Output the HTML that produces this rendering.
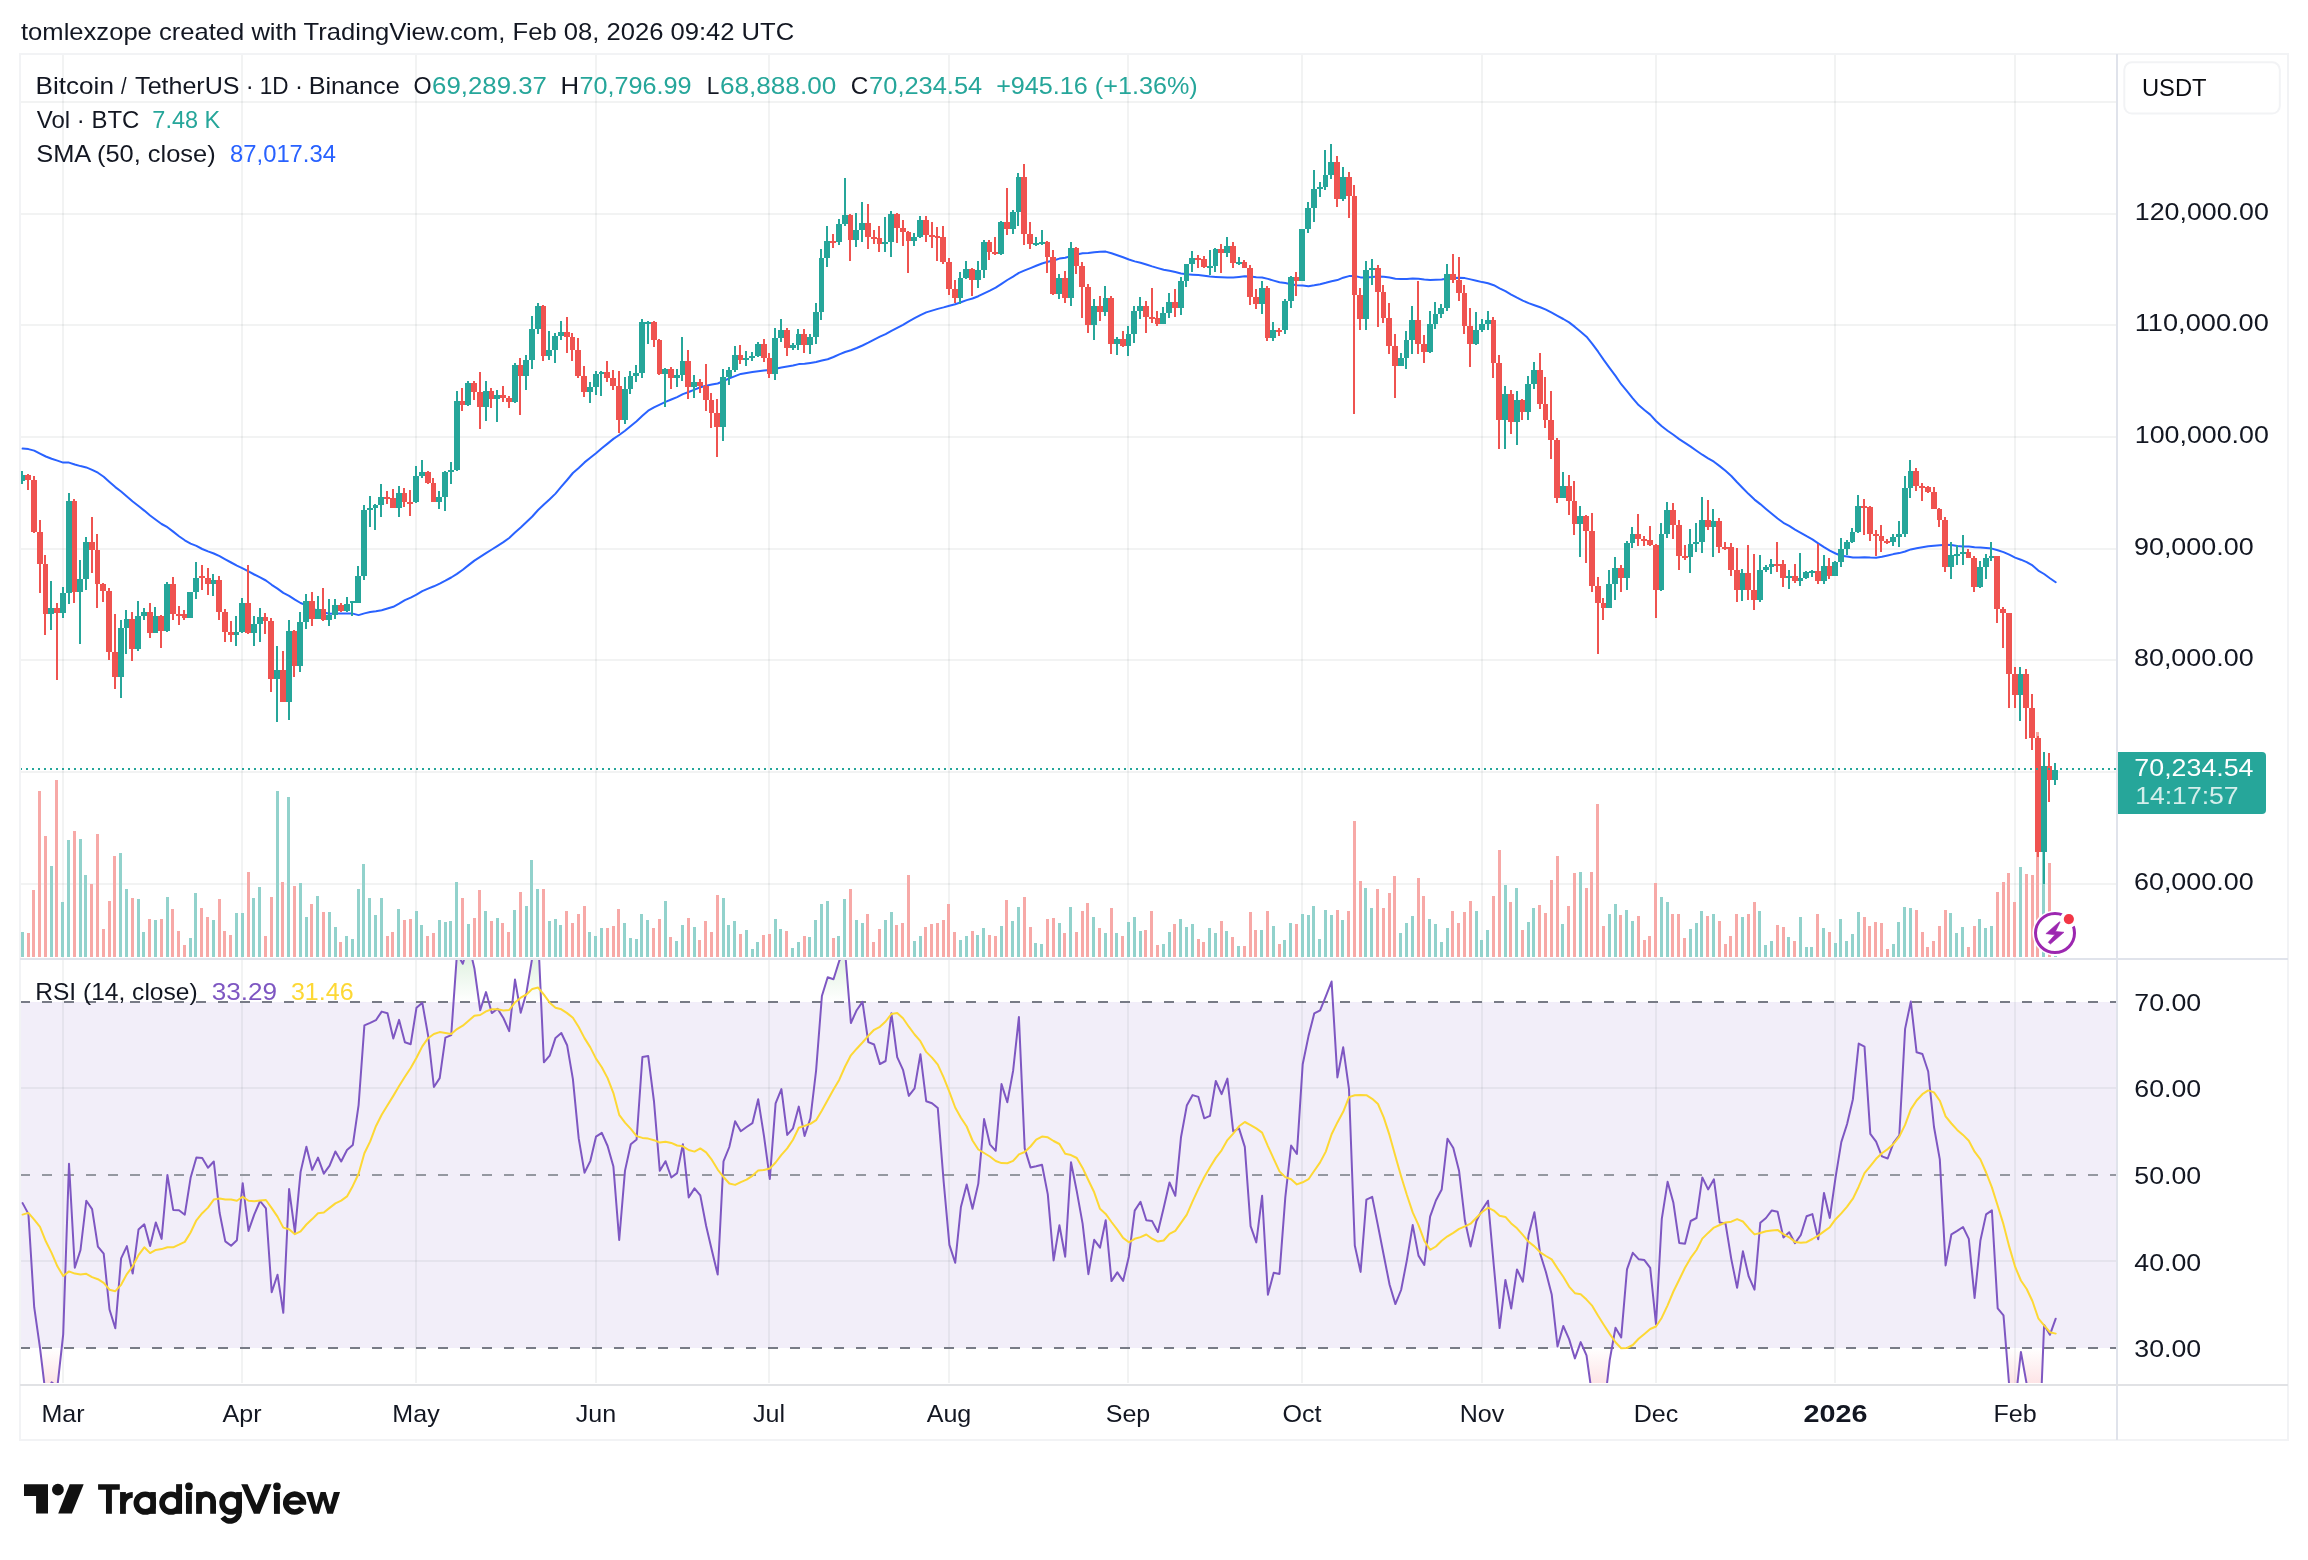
<!DOCTYPE html>
<html><head><meta charset="utf-8"><title>BTCUSDT chart</title>
<style>html,body{margin:0;padding:0;background:#fff;}body{width:2308px;height:1560px;overflow:hidden;font-family:"Liberation Sans", sans-serif;}svg{display:block;will-change:transform;}</style>
</head><body>
<svg width="2308" height="1560" viewBox="0 0 2308 1560" font-family='"Liberation Sans", sans-serif'>
<rect width="2308" height="1560" fill="#fff"/>
<defs>
<clipPath id="p1"><rect x="20" y="55" width="2096" height="903"/></clipPath>
<clipPath id="p2"><rect x="21" y="960" width="2095" height="423"/></clipPath>
<linearGradient id="gob" gradientUnits="userSpaceOnUse" x1="0" y1="742.5" x2="0" y2="1002.0"><stop offset="0" stop-color="#4caf50" stop-opacity="1"/><stop offset="1" stop-color="#4caf50" stop-opacity="0"/></linearGradient>
<linearGradient id="gos" gradientUnits="userSpaceOnUse" x1="0" y1="1348.0" x2="0" y2="1607.5"><stop offset="0" stop-color="#f23645" stop-opacity="0"/><stop offset="1" stop-color="#f23645" stop-opacity="1"/></linearGradient>
</defs>
<rect x="21" y="1002.0" width="2095" height="346.0" fill="#f2eef9"/>
<g stroke="#2a2e39" stroke-opacity="0.06" stroke-width="2" shape-rendering="crispEdges">
<line x1="63" y1="55" x2="63" y2="1383"/>
<line x1="242" y1="55" x2="242" y2="1383"/>
<line x1="416" y1="55" x2="416" y2="1383"/>
<line x1="596" y1="55" x2="596" y2="1383"/>
<line x1="769" y1="55" x2="769" y2="1383"/>
<line x1="949" y1="55" x2="949" y2="1383"/>
<line x1="1128" y1="55" x2="1128" y2="1383"/>
<line x1="1302" y1="55" x2="1302" y2="1383"/>
<line x1="1482" y1="55" x2="1482" y2="1383"/>
<line x1="1656" y1="55" x2="1656" y2="1383"/>
<line x1="1835" y1="55" x2="1835" y2="1383"/>
<line x1="2015" y1="55" x2="2015" y2="1383"/>
<line x1="21" y1="884" x2="2116" y2="884"/>
<line x1="21" y1="772" x2="2116" y2="772"/>
<line x1="21" y1="660" x2="2116" y2="660"/>
<line x1="21" y1="549" x2="2116" y2="549"/>
<line x1="21" y1="437" x2="2116" y2="437"/>
<line x1="21" y1="325" x2="2116" y2="325"/>
<line x1="21" y1="214" x2="2116" y2="214"/>
<line x1="21" y1="102" x2="2116" y2="102"/>
<line x1="21" y1="1088" x2="2116" y2="1088"/>
<line x1="21" y1="1261" x2="2116" y2="1261"/>
</g>
<g clip-path="url(#p1)" shape-rendering="crispEdges">
<rect x="21" y="932" width="3" height="25" fill="#92d2cc"/>
<rect x="27" y="933" width="3" height="24" fill="#f7a9a7"/>
<rect x="32" y="890" width="3" height="67" fill="#f7a9a7"/>
<rect x="38" y="791" width="3" height="166" fill="#f7a9a7"/>
<rect x="44" y="836" width="3" height="121" fill="#f7a9a7"/>
<rect x="50" y="866" width="3" height="91" fill="#92d2cc"/>
<rect x="55" y="780" width="3" height="177" fill="#f7a9a7"/>
<rect x="61" y="902" width="3" height="55" fill="#92d2cc"/>
<rect x="67" y="840" width="3" height="117" fill="#92d2cc"/>
<rect x="73" y="831" width="3" height="126" fill="#f7a9a7"/>
<rect x="79" y="839" width="3" height="118" fill="#92d2cc"/>
<rect x="84" y="875" width="3" height="82" fill="#92d2cc"/>
<rect x="90" y="884" width="3" height="73" fill="#f7a9a7"/>
<rect x="96" y="834" width="3" height="123" fill="#f7a9a7"/>
<rect x="102" y="929" width="3" height="28" fill="#f7a9a7"/>
<rect x="108" y="901" width="3" height="56" fill="#f7a9a7"/>
<rect x="113" y="856" width="3" height="101" fill="#f7a9a7"/>
<rect x="119" y="853" width="3" height="104" fill="#92d2cc"/>
<rect x="125" y="889" width="3" height="68" fill="#92d2cc"/>
<rect x="131" y="898" width="3" height="59" fill="#f7a9a7"/>
<rect x="137" y="899" width="3" height="58" fill="#92d2cc"/>
<rect x="142" y="932" width="3" height="25" fill="#92d2cc"/>
<rect x="148" y="919" width="3" height="38" fill="#f7a9a7"/>
<rect x="154" y="920" width="3" height="37" fill="#92d2cc"/>
<rect x="160" y="919" width="3" height="38" fill="#f7a9a7"/>
<rect x="166" y="897" width="3" height="60" fill="#92d2cc"/>
<rect x="171" y="909" width="3" height="48" fill="#f7a9a7"/>
<rect x="177" y="931" width="3" height="26" fill="#f7a9a7"/>
<rect x="183" y="945" width="3" height="12" fill="#f7a9a7"/>
<rect x="189" y="938" width="3" height="19" fill="#92d2cc"/>
<rect x="194" y="893" width="3" height="64" fill="#92d2cc"/>
<rect x="200" y="908" width="3" height="49" fill="#f7a9a7"/>
<rect x="206" y="917" width="3" height="40" fill="#f7a9a7"/>
<rect x="212" y="920" width="3" height="37" fill="#92d2cc"/>
<rect x="218" y="899" width="3" height="58" fill="#f7a9a7"/>
<rect x="223" y="931" width="3" height="26" fill="#f7a9a7"/>
<rect x="229" y="935" width="3" height="22" fill="#f7a9a7"/>
<rect x="235" y="913" width="3" height="44" fill="#92d2cc"/>
<rect x="241" y="913" width="3" height="44" fill="#92d2cc"/>
<rect x="247" y="872" width="3" height="85" fill="#f7a9a7"/>
<rect x="252" y="898" width="3" height="59" fill="#92d2cc"/>
<rect x="258" y="887" width="3" height="70" fill="#92d2cc"/>
<rect x="264" y="936" width="3" height="21" fill="#f7a9a7"/>
<rect x="270" y="897" width="3" height="60" fill="#f7a9a7"/>
<rect x="276" y="791" width="3" height="166" fill="#92d2cc"/>
<rect x="281" y="882" width="3" height="75" fill="#f7a9a7"/>
<rect x="287" y="797" width="3" height="160" fill="#92d2cc"/>
<rect x="293" y="886" width="3" height="71" fill="#f7a9a7"/>
<rect x="299" y="883" width="3" height="74" fill="#92d2cc"/>
<rect x="305" y="917" width="3" height="40" fill="#92d2cc"/>
<rect x="310" y="904" width="3" height="53" fill="#f7a9a7"/>
<rect x="316" y="896" width="3" height="61" fill="#92d2cc"/>
<rect x="322" y="912" width="3" height="45" fill="#f7a9a7"/>
<rect x="328" y="912" width="3" height="45" fill="#92d2cc"/>
<rect x="334" y="927" width="3" height="30" fill="#92d2cc"/>
<rect x="339" y="942" width="3" height="15" fill="#f7a9a7"/>
<rect x="345" y="936" width="3" height="21" fill="#92d2cc"/>
<rect x="351" y="939" width="3" height="18" fill="#92d2cc"/>
<rect x="357" y="889" width="3" height="68" fill="#92d2cc"/>
<rect x="362" y="864" width="3" height="93" fill="#92d2cc"/>
<rect x="368" y="898" width="3" height="59" fill="#92d2cc"/>
<rect x="374" y="915" width="3" height="42" fill="#92d2cc"/>
<rect x="380" y="898" width="3" height="59" fill="#92d2cc"/>
<rect x="386" y="936" width="3" height="21" fill="#f7a9a7"/>
<rect x="391" y="932" width="3" height="25" fill="#f7a9a7"/>
<rect x="397" y="909" width="3" height="48" fill="#92d2cc"/>
<rect x="403" y="920" width="3" height="37" fill="#f7a9a7"/>
<rect x="409" y="919" width="3" height="38" fill="#f7a9a7"/>
<rect x="415" y="911" width="3" height="46" fill="#92d2cc"/>
<rect x="420" y="925" width="3" height="32" fill="#92d2cc"/>
<rect x="426" y="936" width="3" height="21" fill="#f7a9a7"/>
<rect x="432" y="933" width="3" height="24" fill="#f7a9a7"/>
<rect x="438" y="920" width="3" height="37" fill="#92d2cc"/>
<rect x="444" y="922" width="3" height="35" fill="#92d2cc"/>
<rect x="449" y="921" width="3" height="36" fill="#92d2cc"/>
<rect x="455" y="882" width="3" height="75" fill="#92d2cc"/>
<rect x="461" y="898" width="3" height="59" fill="#f7a9a7"/>
<rect x="467" y="924" width="3" height="33" fill="#92d2cc"/>
<rect x="473" y="918" width="3" height="39" fill="#f7a9a7"/>
<rect x="478" y="890" width="3" height="67" fill="#f7a9a7"/>
<rect x="484" y="911" width="3" height="46" fill="#92d2cc"/>
<rect x="490" y="921" width="3" height="36" fill="#f7a9a7"/>
<rect x="496" y="918" width="3" height="39" fill="#92d2cc"/>
<rect x="501" y="923" width="3" height="34" fill="#f7a9a7"/>
<rect x="507" y="932" width="3" height="25" fill="#f7a9a7"/>
<rect x="513" y="910" width="3" height="47" fill="#92d2cc"/>
<rect x="519" y="892" width="3" height="65" fill="#f7a9a7"/>
<rect x="525" y="906" width="3" height="51" fill="#92d2cc"/>
<rect x="530" y="860" width="3" height="97" fill="#92d2cc"/>
<rect x="536" y="889" width="3" height="68" fill="#92d2cc"/>
<rect x="542" y="889" width="3" height="68" fill="#f7a9a7"/>
<rect x="548" y="921" width="3" height="36" fill="#92d2cc"/>
<rect x="554" y="919" width="3" height="38" fill="#92d2cc"/>
<rect x="559" y="925" width="3" height="32" fill="#92d2cc"/>
<rect x="565" y="911" width="3" height="46" fill="#f7a9a7"/>
<rect x="571" y="923" width="3" height="34" fill="#f7a9a7"/>
<rect x="577" y="914" width="3" height="43" fill="#f7a9a7"/>
<rect x="583" y="906" width="3" height="51" fill="#f7a9a7"/>
<rect x="588" y="932" width="3" height="25" fill="#92d2cc"/>
<rect x="594" y="936" width="3" height="21" fill="#92d2cc"/>
<rect x="600" y="928" width="3" height="29" fill="#92d2cc"/>
<rect x="606" y="928" width="3" height="29" fill="#f7a9a7"/>
<rect x="612" y="926" width="3" height="31" fill="#f7a9a7"/>
<rect x="617" y="909" width="3" height="48" fill="#f7a9a7"/>
<rect x="623" y="923" width="3" height="34" fill="#92d2cc"/>
<rect x="629" y="938" width="3" height="19" fill="#92d2cc"/>
<rect x="635" y="939" width="3" height="18" fill="#92d2cc"/>
<rect x="640" y="914" width="3" height="43" fill="#92d2cc"/>
<rect x="646" y="920" width="3" height="37" fill="#92d2cc"/>
<rect x="652" y="928" width="3" height="29" fill="#f7a9a7"/>
<rect x="658" y="919" width="3" height="38" fill="#f7a9a7"/>
<rect x="664" y="901" width="3" height="56" fill="#92d2cc"/>
<rect x="669" y="937" width="3" height="20" fill="#f7a9a7"/>
<rect x="675" y="941" width="3" height="16" fill="#92d2cc"/>
<rect x="681" y="925" width="3" height="32" fill="#92d2cc"/>
<rect x="687" y="918" width="3" height="39" fill="#f7a9a7"/>
<rect x="693" y="927" width="3" height="30" fill="#92d2cc"/>
<rect x="698" y="940" width="3" height="17" fill="#f7a9a7"/>
<rect x="704" y="921" width="3" height="36" fill="#f7a9a7"/>
<rect x="710" y="932" width="3" height="25" fill="#f7a9a7"/>
<rect x="716" y="895" width="3" height="62" fill="#f7a9a7"/>
<rect x="722" y="898" width="3" height="59" fill="#92d2cc"/>
<rect x="727" y="925" width="3" height="32" fill="#92d2cc"/>
<rect x="733" y="921" width="3" height="36" fill="#92d2cc"/>
<rect x="739" y="934" width="3" height="23" fill="#f7a9a7"/>
<rect x="745" y="930" width="3" height="27" fill="#92d2cc"/>
<rect x="751" y="949" width="3" height="8" fill="#92d2cc"/>
<rect x="756" y="942" width="3" height="15" fill="#92d2cc"/>
<rect x="762" y="935" width="3" height="22" fill="#f7a9a7"/>
<rect x="768" y="934" width="3" height="23" fill="#f7a9a7"/>
<rect x="774" y="919" width="3" height="38" fill="#92d2cc"/>
<rect x="779" y="929" width="3" height="28" fill="#92d2cc"/>
<rect x="785" y="931" width="3" height="26" fill="#f7a9a7"/>
<rect x="791" y="948" width="3" height="9" fill="#92d2cc"/>
<rect x="797" y="942" width="3" height="15" fill="#92d2cc"/>
<rect x="803" y="936" width="3" height="21" fill="#f7a9a7"/>
<rect x="808" y="937" width="3" height="20" fill="#92d2cc"/>
<rect x="814" y="920" width="3" height="37" fill="#92d2cc"/>
<rect x="820" y="904" width="3" height="53" fill="#92d2cc"/>
<rect x="826" y="901" width="3" height="56" fill="#92d2cc"/>
<rect x="832" y="938" width="3" height="19" fill="#f7a9a7"/>
<rect x="837" y="936" width="3" height="21" fill="#92d2cc"/>
<rect x="843" y="899" width="3" height="58" fill="#92d2cc"/>
<rect x="849" y="889" width="3" height="68" fill="#f7a9a7"/>
<rect x="855" y="920" width="3" height="37" fill="#92d2cc"/>
<rect x="861" y="923" width="3" height="34" fill="#92d2cc"/>
<rect x="866" y="914" width="3" height="43" fill="#f7a9a7"/>
<rect x="872" y="942" width="3" height="15" fill="#f7a9a7"/>
<rect x="878" y="929" width="3" height="28" fill="#f7a9a7"/>
<rect x="884" y="920" width="3" height="37" fill="#92d2cc"/>
<rect x="890" y="912" width="3" height="45" fill="#92d2cc"/>
<rect x="895" y="925" width="3" height="32" fill="#f7a9a7"/>
<rect x="901" y="923" width="3" height="34" fill="#f7a9a7"/>
<rect x="907" y="875" width="3" height="82" fill="#f7a9a7"/>
<rect x="913" y="941" width="3" height="16" fill="#92d2cc"/>
<rect x="919" y="936" width="3" height="21" fill="#92d2cc"/>
<rect x="924" y="927" width="3" height="30" fill="#f7a9a7"/>
<rect x="930" y="924" width="3" height="33" fill="#f7a9a7"/>
<rect x="936" y="923" width="3" height="34" fill="#f7a9a7"/>
<rect x="942" y="920" width="3" height="37" fill="#f7a9a7"/>
<rect x="947" y="904" width="3" height="53" fill="#f7a9a7"/>
<rect x="953" y="932" width="3" height="25" fill="#f7a9a7"/>
<rect x="959" y="940" width="3" height="17" fill="#92d2cc"/>
<rect x="965" y="936" width="3" height="21" fill="#92d2cc"/>
<rect x="971" y="931" width="3" height="26" fill="#f7a9a7"/>
<rect x="976" y="935" width="3" height="22" fill="#92d2cc"/>
<rect x="982" y="928" width="3" height="29" fill="#92d2cc"/>
<rect x="988" y="935" width="3" height="22" fill="#f7a9a7"/>
<rect x="994" y="936" width="3" height="21" fill="#f7a9a7"/>
<rect x="1000" y="926" width="3" height="31" fill="#92d2cc"/>
<rect x="1005" y="900" width="3" height="57" fill="#f7a9a7"/>
<rect x="1011" y="921" width="3" height="36" fill="#92d2cc"/>
<rect x="1017" y="907" width="3" height="50" fill="#92d2cc"/>
<rect x="1023" y="897" width="3" height="60" fill="#f7a9a7"/>
<rect x="1029" y="927" width="3" height="30" fill="#f7a9a7"/>
<rect x="1034" y="943" width="3" height="14" fill="#92d2cc"/>
<rect x="1040" y="944" width="3" height="13" fill="#92d2cc"/>
<rect x="1046" y="919" width="3" height="38" fill="#f7a9a7"/>
<rect x="1052" y="918" width="3" height="39" fill="#f7a9a7"/>
<rect x="1058" y="923" width="3" height="34" fill="#92d2cc"/>
<rect x="1063" y="933" width="3" height="24" fill="#f7a9a7"/>
<rect x="1069" y="907" width="3" height="50" fill="#92d2cc"/>
<rect x="1075" y="932" width="3" height="25" fill="#f7a9a7"/>
<rect x="1081" y="911" width="3" height="46" fill="#f7a9a7"/>
<rect x="1086" y="903" width="3" height="54" fill="#f7a9a7"/>
<rect x="1092" y="917" width="3" height="40" fill="#92d2cc"/>
<rect x="1098" y="928" width="3" height="29" fill="#f7a9a7"/>
<rect x="1104" y="933" width="3" height="24" fill="#92d2cc"/>
<rect x="1110" y="908" width="3" height="49" fill="#f7a9a7"/>
<rect x="1115" y="933" width="3" height="24" fill="#92d2cc"/>
<rect x="1121" y="936" width="3" height="21" fill="#f7a9a7"/>
<rect x="1127" y="922" width="3" height="35" fill="#92d2cc"/>
<rect x="1133" y="917" width="3" height="40" fill="#92d2cc"/>
<rect x="1139" y="931" width="3" height="26" fill="#92d2cc"/>
<rect x="1144" y="930" width="3" height="27" fill="#f7a9a7"/>
<rect x="1150" y="911" width="3" height="46" fill="#f7a9a7"/>
<rect x="1156" y="945" width="3" height="12" fill="#f7a9a7"/>
<rect x="1162" y="944" width="3" height="13" fill="#92d2cc"/>
<rect x="1168" y="932" width="3" height="25" fill="#92d2cc"/>
<rect x="1173" y="924" width="3" height="33" fill="#f7a9a7"/>
<rect x="1179" y="919" width="3" height="38" fill="#92d2cc"/>
<rect x="1185" y="927" width="3" height="30" fill="#92d2cc"/>
<rect x="1191" y="924" width="3" height="33" fill="#92d2cc"/>
<rect x="1197" y="939" width="3" height="18" fill="#f7a9a7"/>
<rect x="1202" y="942" width="3" height="15" fill="#f7a9a7"/>
<rect x="1208" y="928" width="3" height="29" fill="#92d2cc"/>
<rect x="1214" y="933" width="3" height="24" fill="#92d2cc"/>
<rect x="1220" y="921" width="3" height="36" fill="#f7a9a7"/>
<rect x="1225" y="931" width="3" height="26" fill="#92d2cc"/>
<rect x="1231" y="937" width="3" height="20" fill="#f7a9a7"/>
<rect x="1237" y="946" width="3" height="11" fill="#92d2cc"/>
<rect x="1243" y="946" width="3" height="11" fill="#f7a9a7"/>
<rect x="1249" y="912" width="3" height="45" fill="#f7a9a7"/>
<rect x="1254" y="930" width="3" height="27" fill="#f7a9a7"/>
<rect x="1260" y="930" width="3" height="27" fill="#92d2cc"/>
<rect x="1266" y="911" width="3" height="46" fill="#f7a9a7"/>
<rect x="1272" y="926" width="3" height="31" fill="#92d2cc"/>
<rect x="1278" y="944" width="3" height="13" fill="#f7a9a7"/>
<rect x="1283" y="940" width="3" height="17" fill="#92d2cc"/>
<rect x="1289" y="923" width="3" height="34" fill="#92d2cc"/>
<rect x="1295" y="924" width="3" height="33" fill="#f7a9a7"/>
<rect x="1301" y="914" width="3" height="43" fill="#92d2cc"/>
<rect x="1307" y="915" width="3" height="42" fill="#92d2cc"/>
<rect x="1312" y="906" width="3" height="51" fill="#92d2cc"/>
<rect x="1318" y="939" width="3" height="18" fill="#92d2cc"/>
<rect x="1324" y="910" width="3" height="47" fill="#92d2cc"/>
<rect x="1330" y="915" width="3" height="42" fill="#92d2cc"/>
<rect x="1336" y="910" width="3" height="47" fill="#f7a9a7"/>
<rect x="1341" y="920" width="3" height="37" fill="#92d2cc"/>
<rect x="1347" y="911" width="3" height="46" fill="#f7a9a7"/>
<rect x="1353" y="821" width="3" height="136" fill="#f7a9a7"/>
<rect x="1359" y="881" width="3" height="76" fill="#f7a9a7"/>
<rect x="1364" y="888" width="3" height="69" fill="#92d2cc"/>
<rect x="1370" y="908" width="3" height="49" fill="#92d2cc"/>
<rect x="1376" y="889" width="3" height="68" fill="#f7a9a7"/>
<rect x="1382" y="908" width="3" height="49" fill="#f7a9a7"/>
<rect x="1388" y="893" width="3" height="64" fill="#f7a9a7"/>
<rect x="1393" y="876" width="3" height="81" fill="#f7a9a7"/>
<rect x="1399" y="933" width="3" height="24" fill="#92d2cc"/>
<rect x="1405" y="923" width="3" height="34" fill="#92d2cc"/>
<rect x="1411" y="916" width="3" height="41" fill="#92d2cc"/>
<rect x="1417" y="878" width="3" height="79" fill="#f7a9a7"/>
<rect x="1422" y="896" width="3" height="61" fill="#f7a9a7"/>
<rect x="1428" y="919" width="3" height="38" fill="#92d2cc"/>
<rect x="1434" y="924" width="3" height="33" fill="#92d2cc"/>
<rect x="1440" y="942" width="3" height="15" fill="#92d2cc"/>
<rect x="1446" y="928" width="3" height="29" fill="#92d2cc"/>
<rect x="1451" y="911" width="3" height="46" fill="#f7a9a7"/>
<rect x="1457" y="923" width="3" height="34" fill="#f7a9a7"/>
<rect x="1463" y="912" width="3" height="45" fill="#f7a9a7"/>
<rect x="1469" y="901" width="3" height="56" fill="#f7a9a7"/>
<rect x="1475" y="911" width="3" height="46" fill="#92d2cc"/>
<rect x="1480" y="940" width="3" height="17" fill="#92d2cc"/>
<rect x="1486" y="930" width="3" height="27" fill="#92d2cc"/>
<rect x="1492" y="896" width="3" height="61" fill="#f7a9a7"/>
<rect x="1498" y="850" width="3" height="107" fill="#f7a9a7"/>
<rect x="1504" y="885" width="3" height="72" fill="#92d2cc"/>
<rect x="1509" y="902" width="3" height="55" fill="#f7a9a7"/>
<rect x="1515" y="888" width="3" height="69" fill="#92d2cc"/>
<rect x="1521" y="930" width="3" height="27" fill="#f7a9a7"/>
<rect x="1527" y="922" width="3" height="35" fill="#92d2cc"/>
<rect x="1532" y="908" width="3" height="49" fill="#92d2cc"/>
<rect x="1538" y="905" width="3" height="52" fill="#f7a9a7"/>
<rect x="1544" y="913" width="3" height="44" fill="#f7a9a7"/>
<rect x="1550" y="880" width="3" height="77" fill="#f7a9a7"/>
<rect x="1556" y="856" width="3" height="101" fill="#f7a9a7"/>
<rect x="1561" y="924" width="3" height="33" fill="#92d2cc"/>
<rect x="1567" y="906" width="3" height="51" fill="#f7a9a7"/>
<rect x="1573" y="873" width="3" height="84" fill="#f7a9a7"/>
<rect x="1579" y="872" width="3" height="85" fill="#92d2cc"/>
<rect x="1585" y="888" width="3" height="69" fill="#f7a9a7"/>
<rect x="1590" y="872" width="3" height="85" fill="#f7a9a7"/>
<rect x="1596" y="804" width="3" height="153" fill="#f7a9a7"/>
<rect x="1602" y="926" width="3" height="31" fill="#f7a9a7"/>
<rect x="1608" y="914" width="3" height="43" fill="#92d2cc"/>
<rect x="1614" y="904" width="3" height="53" fill="#92d2cc"/>
<rect x="1619" y="915" width="3" height="42" fill="#f7a9a7"/>
<rect x="1625" y="910" width="3" height="47" fill="#92d2cc"/>
<rect x="1631" y="921" width="3" height="36" fill="#92d2cc"/>
<rect x="1637" y="916" width="3" height="41" fill="#f7a9a7"/>
<rect x="1643" y="940" width="3" height="17" fill="#f7a9a7"/>
<rect x="1648" y="936" width="3" height="21" fill="#f7a9a7"/>
<rect x="1654" y="883" width="3" height="74" fill="#f7a9a7"/>
<rect x="1660" y="897" width="3" height="60" fill="#92d2cc"/>
<rect x="1666" y="902" width="3" height="55" fill="#92d2cc"/>
<rect x="1671" y="914" width="3" height="43" fill="#f7a9a7"/>
<rect x="1677" y="914" width="3" height="43" fill="#f7a9a7"/>
<rect x="1683" y="938" width="3" height="19" fill="#f7a9a7"/>
<rect x="1689" y="929" width="3" height="28" fill="#92d2cc"/>
<rect x="1695" y="923" width="3" height="34" fill="#92d2cc"/>
<rect x="1700" y="911" width="3" height="46" fill="#92d2cc"/>
<rect x="1706" y="916" width="3" height="41" fill="#f7a9a7"/>
<rect x="1712" y="914" width="3" height="43" fill="#92d2cc"/>
<rect x="1718" y="921" width="3" height="36" fill="#f7a9a7"/>
<rect x="1724" y="944" width="3" height="13" fill="#f7a9a7"/>
<rect x="1729" y="936" width="3" height="21" fill="#f7a9a7"/>
<rect x="1735" y="914" width="3" height="43" fill="#f7a9a7"/>
<rect x="1741" y="917" width="3" height="40" fill="#92d2cc"/>
<rect x="1747" y="914" width="3" height="43" fill="#f7a9a7"/>
<rect x="1753" y="902" width="3" height="55" fill="#f7a9a7"/>
<rect x="1758" y="911" width="3" height="46" fill="#92d2cc"/>
<rect x="1764" y="945" width="3" height="12" fill="#92d2cc"/>
<rect x="1770" y="941" width="3" height="16" fill="#92d2cc"/>
<rect x="1776" y="925" width="3" height="32" fill="#f7a9a7"/>
<rect x="1782" y="927" width="3" height="30" fill="#f7a9a7"/>
<rect x="1787" y="937" width="3" height="20" fill="#92d2cc"/>
<rect x="1793" y="941" width="3" height="16" fill="#f7a9a7"/>
<rect x="1799" y="917" width="3" height="40" fill="#92d2cc"/>
<rect x="1805" y="947" width="3" height="10" fill="#92d2cc"/>
<rect x="1810" y="947" width="3" height="10" fill="#92d2cc"/>
<rect x="1816" y="914" width="3" height="43" fill="#f7a9a7"/>
<rect x="1822" y="928" width="3" height="29" fill="#92d2cc"/>
<rect x="1828" y="932" width="3" height="25" fill="#f7a9a7"/>
<rect x="1834" y="943" width="3" height="14" fill="#92d2cc"/>
<rect x="1839" y="919" width="3" height="38" fill="#92d2cc"/>
<rect x="1845" y="941" width="3" height="16" fill="#92d2cc"/>
<rect x="1851" y="934" width="3" height="23" fill="#92d2cc"/>
<rect x="1857" y="912" width="3" height="45" fill="#92d2cc"/>
<rect x="1863" y="917" width="3" height="40" fill="#f7a9a7"/>
<rect x="1868" y="926" width="3" height="31" fill="#f7a9a7"/>
<rect x="1874" y="922" width="3" height="35" fill="#f7a9a7"/>
<rect x="1880" y="923" width="3" height="34" fill="#f7a9a7"/>
<rect x="1886" y="949" width="3" height="8" fill="#f7a9a7"/>
<rect x="1892" y="944" width="3" height="13" fill="#92d2cc"/>
<rect x="1897" y="922" width="3" height="35" fill="#92d2cc"/>
<rect x="1903" y="907" width="3" height="50" fill="#92d2cc"/>
<rect x="1909" y="908" width="3" height="49" fill="#92d2cc"/>
<rect x="1915" y="910" width="3" height="47" fill="#f7a9a7"/>
<rect x="1921" y="932" width="3" height="25" fill="#f7a9a7"/>
<rect x="1926" y="947" width="3" height="10" fill="#f7a9a7"/>
<rect x="1932" y="941" width="3" height="16" fill="#f7a9a7"/>
<rect x="1938" y="926" width="3" height="31" fill="#f7a9a7"/>
<rect x="1944" y="910" width="3" height="47" fill="#f7a9a7"/>
<rect x="1949" y="913" width="3" height="44" fill="#92d2cc"/>
<rect x="1955" y="933" width="3" height="24" fill="#92d2cc"/>
<rect x="1961" y="927" width="3" height="30" fill="#92d2cc"/>
<rect x="1967" y="947" width="3" height="10" fill="#f7a9a7"/>
<rect x="1973" y="926" width="3" height="31" fill="#f7a9a7"/>
<rect x="1978" y="919" width="3" height="38" fill="#92d2cc"/>
<rect x="1984" y="928" width="3" height="29" fill="#92d2cc"/>
<rect x="1990" y="926" width="3" height="31" fill="#92d2cc"/>
<rect x="1996" y="892" width="3" height="65" fill="#f7a9a7"/>
<rect x="2002" y="882" width="3" height="75" fill="#f7a9a7"/>
<rect x="2007" y="873" width="3" height="84" fill="#f7a9a7"/>
<rect x="2013" y="902" width="3" height="55" fill="#f7a9a7"/>
<rect x="2019" y="867" width="3" height="90" fill="#92d2cc"/>
<rect x="2025" y="874" width="3" height="83" fill="#f7a9a7"/>
<rect x="2031" y="875" width="3" height="82" fill="#f7a9a7"/>
<rect x="2036" y="732" width="3" height="225" fill="#f7a9a7"/>
<rect x="2042" y="802" width="3" height="155" fill="#92d2cc"/>
<rect x="2048" y="863" width="3" height="94" fill="#f7a9a7"/>
<rect x="2054" y="956" width="3" height="1" fill="#92d2cc"/>
</g>
<polyline clip-path="url(#p1)" points="22.6,448.6 28.4,449.1 34.2,450.6 40.0,453.6 45.8,456.5 51.6,458.8 57.4,460.6 63.2,462.6 69.0,462.6 74.8,464.5 80.5,466.1 86.3,467.4 92.1,469.8 97.9,472.7 103.7,476.7 109.5,482.0 115.3,487.1 121.1,491.5 126.9,496.5 132.7,501.5 138.5,506.0 144.3,510.6 150.1,515.5 155.8,519.7 161.6,524.0 167.4,527.2 173.2,531.6 179.0,536.2 184.8,540.3 190.6,543.6 196.4,545.9 202.2,549.0 208.0,551.4 213.8,553.5 219.6,556.2 225.3,559.3 231.1,562.5 236.9,565.6 242.7,568.3 248.5,571.3 254.3,574.5 260.1,577.4 265.9,580.5 271.7,584.8 277.5,588.6 283.3,592.9 289.1,595.8 294.9,599.7 300.6,603.0 306.4,605.4 312.2,608.3 318.0,610.9 323.8,612.6 329.6,613.7 335.4,613.5 341.2,613.6 347.0,613.4 352.8,613.6 358.6,615.1 364.4,613.4 370.2,612.0 375.9,611.3 381.7,610.2 387.5,608.5 393.3,606.8 399.1,603.6 404.9,600.1 410.7,597.6 416.5,594.7 422.3,591.2 428.1,588.6 433.9,586.3 439.7,583.6 445.4,580.7 451.2,577.5 457.0,573.9 462.8,569.7 468.6,565.1 474.4,560.6 480.2,556.9 486.0,553.1 491.8,549.5 497.6,545.8 503.4,542.1 509.2,538.0 515.0,532.6 520.7,527.5 526.5,522.0 532.3,516.5 538.1,510.0 543.9,504.6 549.7,499.3 555.5,493.6 561.3,486.7 567.1,480.0 572.9,473.0 578.7,467.9 584.5,462.4 590.3,457.7 596.0,453.2 601.8,448.2 607.6,443.6 613.4,438.9 619.2,435.0 625.0,430.7 630.8,426.0 636.6,421.3 642.4,415.8 648.2,410.7 654.0,407.3 659.8,404.6 665.5,401.9 671.3,399.5 677.1,397.1 682.9,394.1 688.7,392.0 694.5,389.6 700.3,387.3 706.1,385.8 711.9,384.6 717.7,383.5 723.5,381.0 729.3,378.4 735.1,376.1 740.8,373.9 746.6,373.0 752.4,372.0 758.2,371.2 764.0,370.6 769.8,369.9 775.6,368.8 781.4,367.5 787.2,366.5 793.0,365.5 798.8,364.1 804.6,363.7 810.4,362.9 816.1,362.0 821.9,360.5 827.7,359.2 833.5,357.0 839.3,354.4 845.1,352.0 850.9,350.2 856.7,348.0 862.5,345.5 868.3,342.7 874.1,339.6 879.9,336.7 885.6,334.1 891.4,330.9 897.2,327.9 903.0,324.9 908.8,321.3 914.6,318.2 920.4,315.1 926.2,312.4 932.0,310.6 937.8,308.9 943.6,307.4 949.4,305.7 955.2,304.2 960.9,302.2 966.7,300.1 972.5,298.5 978.3,296.2 984.1,293.3 989.9,290.7 995.7,287.7 1001.5,283.9 1007.3,280.0 1013.1,276.7 1018.9,272.8 1024.7,270.4 1030.5,268.1 1036.2,265.8 1042.0,263.5 1047.8,261.8 1053.6,260.5 1059.4,258.6 1065.2,257.8 1071.0,256.1 1076.8,254.5 1082.6,253.3 1088.4,253.1 1094.2,252.3 1100.0,251.8 1105.7,251.6 1111.5,253.3 1117.3,255.2 1123.1,257.3 1128.9,259.5 1134.7,261.4 1140.5,262.8 1146.3,264.5 1152.1,266.4 1157.9,268.1 1163.7,269.7 1169.5,270.8 1175.3,272.1 1181.0,273.5 1186.8,274.2 1192.6,274.7 1198.4,275.1 1204.2,275.7 1210.0,276.6 1215.8,276.9 1221.6,277.2 1227.4,277.4 1233.2,277.4 1239.0,276.9 1244.8,276.3 1250.6,276.6 1256.3,277.3 1262.1,277.5 1267.9,278.9 1273.7,280.6 1279.5,282.2 1285.3,283.1 1291.1,284.2 1296.9,285.3 1302.7,285.6 1308.5,286.2 1314.3,285.3 1320.1,284.2 1325.8,282.8 1331.6,281.2 1337.4,280.1 1343.2,277.7 1349.0,276.1 1354.8,276.0 1360.6,277.4 1366.4,277.5 1372.2,277.1 1378.0,276.5 1383.8,276.7 1389.6,277.4 1395.4,278.7 1401.1,279.0 1406.9,279.0 1412.7,278.5 1418.5,278.7 1424.3,279.5 1430.1,279.9 1435.9,279.8 1441.7,279.6 1447.5,278.6 1453.3,278.0 1459.1,277.8 1464.9,278.1 1470.6,279.4 1476.4,280.7 1482.2,282.1 1488.0,283.3 1493.8,285.2 1499.6,288.3 1505.4,291.2 1511.2,294.6 1517.0,297.7 1522.8,300.6 1528.6,303.1 1534.4,305.2 1540.2,307.3 1545.9,309.6 1551.7,312.7 1557.5,315.9 1563.3,319.0 1569.1,322.4 1574.9,326.9 1580.7,331.7 1586.5,336.7 1592.3,343.8 1598.1,351.7 1603.9,360.1 1609.7,368.1 1615.5,375.9 1621.2,384.2 1627.0,391.1 1632.8,398.3 1638.6,405.1 1644.4,410.0 1650.2,414.6 1656.0,421.0 1661.8,426.3 1667.6,430.7 1673.4,434.8 1679.2,439.1 1685.0,442.9 1690.7,446.6 1696.5,450.7 1702.3,454.7 1708.1,458.3 1713.9,461.7 1719.7,466.1 1725.5,470.8 1731.3,476.0 1737.1,482.3 1742.9,488.2 1748.7,494.1 1754.5,499.6 1760.3,504.1 1766.0,508.9 1771.8,513.7 1777.6,518.5 1783.4,522.8 1789.2,525.9 1795.0,529.7 1800.8,532.8 1806.6,536.2 1812.4,539.4 1818.2,543.3 1824.0,547.2 1829.8,550.7 1835.6,553.5 1841.3,555.7 1847.1,556.6 1852.9,557.5 1858.7,557.6 1864.5,557.2 1870.3,557.6 1876.1,557.7 1881.9,556.8 1887.7,555.5 1893.5,554.1 1899.3,553.1 1905.1,551.5 1910.8,549.4 1916.6,548.2 1922.4,547.3 1928.2,546.3 1934.0,545.7 1939.8,545.2 1945.6,544.7 1951.4,545.1 1957.2,546.0 1963.0,546.5 1968.8,546.6 1974.6,547.2 1980.4,547.6 1986.1,547.9 1991.9,548.6 1997.7,550.3 2003.5,552.1 2009.3,554.7 2015.1,557.6 2020.9,559.7 2026.7,562.1 2032.5,565.4 2038.3,570.6 2044.1,574.0 2049.9,578.2 2055.7,582.2" fill="none" stroke="#2962ff" stroke-width="2" stroke-linejoin="round" stroke-linecap="round"/>
<g clip-path="url(#p1)" shape-rendering="crispEdges">
<rect x="21" y="471" width="2" height="13" fill="#26a69a"/>
<rect x="19" y="475" width="6" height="6" fill="#26a69a"/>
<rect x="27" y="474" width="2" height="16" fill="#ef5350"/>
<rect x="25" y="475" width="6" height="5" fill="#ef5350"/>
<rect x="33" y="476" width="2" height="57" fill="#ef5350"/>
<rect x="31" y="480" width="6" height="52" fill="#ef5350"/>
<rect x="39" y="520" width="2" height="73" fill="#ef5350"/>
<rect x="37" y="532" width="6" height="32" fill="#ef5350"/>
<rect x="44" y="555" width="2" height="80" fill="#ef5350"/>
<rect x="43" y="564" width="5" height="50" fill="#ef5350"/>
<rect x="50" y="581" width="2" height="49" fill="#26a69a"/>
<rect x="48" y="608" width="6" height="6" fill="#26a69a"/>
<rect x="56" y="603" width="2" height="77" fill="#ef5350"/>
<rect x="54" y="608" width="6" height="5" fill="#ef5350"/>
<rect x="62" y="587" width="2" height="31" fill="#26a69a"/>
<rect x="60" y="593" width="6" height="20" fill="#26a69a"/>
<rect x="68" y="493" width="2" height="111" fill="#26a69a"/>
<rect x="66" y="501" width="6" height="92" fill="#26a69a"/>
<rect x="73" y="499" width="2" height="104" fill="#ef5350"/>
<rect x="72" y="501" width="5" height="91" fill="#ef5350"/>
<rect x="79" y="560" width="2" height="84" fill="#26a69a"/>
<rect x="77" y="579" width="6" height="13" fill="#26a69a"/>
<rect x="85" y="537" width="2" height="53" fill="#26a69a"/>
<rect x="83" y="542" width="6" height="37" fill="#26a69a"/>
<rect x="91" y="517" width="2" height="56" fill="#ef5350"/>
<rect x="89" y="542" width="6" height="8" fill="#ef5350"/>
<rect x="96" y="534" width="2" height="74" fill="#ef5350"/>
<rect x="95" y="550" width="5" height="34" fill="#ef5350"/>
<rect x="102" y="583" width="2" height="19" fill="#ef5350"/>
<rect x="100" y="584" width="6" height="7" fill="#ef5350"/>
<rect x="108" y="588" width="2" height="72" fill="#ef5350"/>
<rect x="106" y="591" width="6" height="61" fill="#ef5350"/>
<rect x="114" y="614" width="2" height="75" fill="#ef5350"/>
<rect x="112" y="652" width="6" height="25" fill="#ef5350"/>
<rect x="120" y="620" width="2" height="78" fill="#26a69a"/>
<rect x="118" y="628" width="6" height="49" fill="#26a69a"/>
<rect x="125" y="610" width="2" height="44" fill="#26a69a"/>
<rect x="124" y="619" width="5" height="9" fill="#26a69a"/>
<rect x="131" y="612" width="2" height="49" fill="#ef5350"/>
<rect x="129" y="619" width="6" height="30" fill="#ef5350"/>
<rect x="137" y="601" width="2" height="50" fill="#26a69a"/>
<rect x="135" y="616" width="6" height="33" fill="#26a69a"/>
<rect x="143" y="608" width="2" height="12" fill="#26a69a"/>
<rect x="141" y="612" width="6" height="4" fill="#26a69a"/>
<rect x="149" y="603" width="2" height="35" fill="#ef5350"/>
<rect x="147" y="612" width="6" height="21" fill="#ef5350"/>
<rect x="154" y="607" width="2" height="26" fill="#26a69a"/>
<rect x="153" y="616" width="5" height="17" fill="#26a69a"/>
<rect x="160" y="615" width="2" height="33" fill="#ef5350"/>
<rect x="158" y="616" width="6" height="15" fill="#ef5350"/>
<rect x="166" y="582" width="2" height="50" fill="#26a69a"/>
<rect x="164" y="584" width="6" height="47" fill="#26a69a"/>
<rect x="172" y="577" width="2" height="43" fill="#ef5350"/>
<rect x="170" y="584" width="6" height="30" fill="#ef5350"/>
<rect x="178" y="606" width="2" height="19" fill="#ef5350"/>
<rect x="176" y="614" width="6" height="2" fill="#ef5350"/>
<rect x="183" y="610" width="2" height="10" fill="#ef5350"/>
<rect x="182" y="614" width="5" height="4" fill="#ef5350"/>
<rect x="189" y="592" width="2" height="26" fill="#26a69a"/>
<rect x="187" y="592" width="6" height="26" fill="#26a69a"/>
<rect x="195" y="562" width="2" height="37" fill="#26a69a"/>
<rect x="193" y="578" width="6" height="14" fill="#26a69a"/>
<rect x="201" y="565" width="2" height="25" fill="#ef5350"/>
<rect x="199" y="576" width="6" height="2" fill="#ef5350"/>
<rect x="207" y="568" width="2" height="27" fill="#ef5350"/>
<rect x="205" y="578" width="6" height="6" fill="#ef5350"/>
<rect x="212" y="574" width="2" height="22" fill="#26a69a"/>
<rect x="211" y="580" width="5" height="4" fill="#26a69a"/>
<rect x="218" y="576" width="2" height="44" fill="#ef5350"/>
<rect x="216" y="580" width="6" height="32" fill="#ef5350"/>
<rect x="224" y="609" width="2" height="33" fill="#ef5350"/>
<rect x="222" y="612" width="6" height="20" fill="#ef5350"/>
<rect x="230" y="621" width="2" height="21" fill="#ef5350"/>
<rect x="228" y="632" width="6" height="3" fill="#ef5350"/>
<rect x="235" y="616" width="2" height="30" fill="#26a69a"/>
<rect x="234" y="632" width="5" height="3" fill="#26a69a"/>
<rect x="241" y="598" width="2" height="35" fill="#26a69a"/>
<rect x="239" y="603" width="6" height="29" fill="#26a69a"/>
<rect x="247" y="565" width="2" height="69" fill="#ef5350"/>
<rect x="245" y="603" width="6" height="30" fill="#ef5350"/>
<rect x="253" y="616" width="2" height="30" fill="#26a69a"/>
<rect x="251" y="624" width="6" height="9" fill="#26a69a"/>
<rect x="259" y="608" width="2" height="34" fill="#26a69a"/>
<rect x="257" y="617" width="6" height="7" fill="#26a69a"/>
<rect x="264" y="613" width="2" height="21" fill="#ef5350"/>
<rect x="263" y="617" width="5" height="4" fill="#ef5350"/>
<rect x="270" y="618" width="2" height="74" fill="#ef5350"/>
<rect x="268" y="621" width="6" height="58" fill="#ef5350"/>
<rect x="276" y="646" width="2" height="76" fill="#26a69a"/>
<rect x="274" y="670" width="6" height="9" fill="#26a69a"/>
<rect x="282" y="651" width="2" height="51" fill="#ef5350"/>
<rect x="280" y="670" width="6" height="32" fill="#ef5350"/>
<rect x="288" y="620" width="2" height="100" fill="#26a69a"/>
<rect x="286" y="631" width="6" height="71" fill="#26a69a"/>
<rect x="293" y="630" width="2" height="47" fill="#ef5350"/>
<rect x="292" y="631" width="5" height="35" fill="#ef5350"/>
<rect x="299" y="612" width="2" height="60" fill="#26a69a"/>
<rect x="297" y="622" width="6" height="44" fill="#26a69a"/>
<rect x="305" y="594" width="2" height="35" fill="#26a69a"/>
<rect x="303" y="601" width="6" height="21" fill="#26a69a"/>
<rect x="311" y="592" width="2" height="34" fill="#ef5350"/>
<rect x="309" y="601" width="6" height="18" fill="#ef5350"/>
<rect x="317" y="596" width="2" height="23" fill="#26a69a"/>
<rect x="315" y="609" width="6" height="10" fill="#26a69a"/>
<rect x="322" y="588" width="2" height="33" fill="#ef5350"/>
<rect x="321" y="609" width="5" height="11" fill="#ef5350"/>
<rect x="328" y="599" width="2" height="27" fill="#26a69a"/>
<rect x="326" y="615" width="6" height="5" fill="#26a69a"/>
<rect x="334" y="599" width="2" height="20" fill="#26a69a"/>
<rect x="332" y="605" width="6" height="10" fill="#26a69a"/>
<rect x="340" y="603" width="2" height="9" fill="#ef5350"/>
<rect x="338" y="605" width="6" height="6" fill="#ef5350"/>
<rect x="346" y="597" width="2" height="15" fill="#26a69a"/>
<rect x="344" y="604" width="6" height="7" fill="#26a69a"/>
<rect x="351" y="601" width="2" height="15" fill="#26a69a"/>
<rect x="350" y="601" width="5" height="2" fill="#26a69a"/>
<rect x="357" y="566" width="2" height="37" fill="#26a69a"/>
<rect x="355" y="576" width="6" height="27" fill="#26a69a"/>
<rect x="363" y="505" width="2" height="75" fill="#26a69a"/>
<rect x="361" y="510" width="6" height="66" fill="#26a69a"/>
<rect x="369" y="496" width="2" height="31" fill="#26a69a"/>
<rect x="367" y="508" width="6" height="2" fill="#26a69a"/>
<rect x="374" y="504" width="2" height="26" fill="#26a69a"/>
<rect x="373" y="505" width="5" height="3" fill="#26a69a"/>
<rect x="380" y="484" width="2" height="33" fill="#26a69a"/>
<rect x="378" y="497" width="6" height="8" fill="#26a69a"/>
<rect x="386" y="491" width="2" height="13" fill="#ef5350"/>
<rect x="384" y="497" width="6" height="2" fill="#ef5350"/>
<rect x="392" y="489" width="2" height="19" fill="#ef5350"/>
<rect x="390" y="498" width="6" height="10" fill="#ef5350"/>
<rect x="398" y="486" width="2" height="31" fill="#26a69a"/>
<rect x="396" y="493" width="6" height="15" fill="#26a69a"/>
<rect x="403" y="488" width="2" height="19" fill="#ef5350"/>
<rect x="402" y="493" width="5" height="9" fill="#ef5350"/>
<rect x="409" y="490" width="2" height="26" fill="#ef5350"/>
<rect x="407" y="502" width="6" height="2" fill="#ef5350"/>
<rect x="415" y="466" width="2" height="37" fill="#26a69a"/>
<rect x="413" y="476" width="6" height="26" fill="#26a69a"/>
<rect x="421" y="460" width="2" height="18" fill="#26a69a"/>
<rect x="419" y="472" width="6" height="4" fill="#26a69a"/>
<rect x="427" y="471" width="2" height="13" fill="#ef5350"/>
<rect x="425" y="472" width="6" height="11" fill="#ef5350"/>
<rect x="432" y="478" width="2" height="24" fill="#ef5350"/>
<rect x="431" y="483" width="5" height="19" fill="#ef5350"/>
<rect x="438" y="491" width="2" height="18" fill="#26a69a"/>
<rect x="436" y="497" width="6" height="5" fill="#26a69a"/>
<rect x="444" y="471" width="2" height="40" fill="#26a69a"/>
<rect x="442" y="472" width="6" height="25" fill="#26a69a"/>
<rect x="450" y="462" width="2" height="22" fill="#26a69a"/>
<rect x="448" y="470" width="6" height="2" fill="#26a69a"/>
<rect x="456" y="391" width="2" height="80" fill="#26a69a"/>
<rect x="454" y="401" width="6" height="69" fill="#26a69a"/>
<rect x="461" y="388" width="2" height="23" fill="#ef5350"/>
<rect x="460" y="401" width="5" height="4" fill="#ef5350"/>
<rect x="467" y="381" width="2" height="25" fill="#26a69a"/>
<rect x="465" y="383" width="6" height="22" fill="#26a69a"/>
<rect x="473" y="381" width="2" height="19" fill="#ef5350"/>
<rect x="471" y="383" width="6" height="9" fill="#ef5350"/>
<rect x="479" y="372" width="2" height="57" fill="#ef5350"/>
<rect x="477" y="392" width="6" height="15" fill="#ef5350"/>
<rect x="485" y="381" width="2" height="40" fill="#26a69a"/>
<rect x="483" y="391" width="6" height="16" fill="#26a69a"/>
<rect x="490" y="388" width="2" height="20" fill="#ef5350"/>
<rect x="489" y="391" width="5" height="8" fill="#ef5350"/>
<rect x="496" y="390" width="2" height="32" fill="#26a69a"/>
<rect x="494" y="395" width="6" height="4" fill="#26a69a"/>
<rect x="502" y="386" width="2" height="16" fill="#ef5350"/>
<rect x="500" y="395" width="6" height="3" fill="#ef5350"/>
<rect x="508" y="396" width="2" height="12" fill="#ef5350"/>
<rect x="506" y="398" width="6" height="4" fill="#ef5350"/>
<rect x="514" y="363" width="2" height="40" fill="#26a69a"/>
<rect x="512" y="365" width="6" height="37" fill="#26a69a"/>
<rect x="519" y="358" width="2" height="57" fill="#ef5350"/>
<rect x="518" y="365" width="5" height="11" fill="#ef5350"/>
<rect x="525" y="355" width="2" height="35" fill="#26a69a"/>
<rect x="523" y="360" width="6" height="16" fill="#26a69a"/>
<rect x="531" y="316" width="2" height="53" fill="#26a69a"/>
<rect x="529" y="329" width="6" height="31" fill="#26a69a"/>
<rect x="537" y="303" width="2" height="31" fill="#26a69a"/>
<rect x="535" y="306" width="6" height="23" fill="#26a69a"/>
<rect x="542" y="305" width="2" height="56" fill="#ef5350"/>
<rect x="541" y="306" width="5" height="50" fill="#ef5350"/>
<rect x="548" y="331" width="2" height="29" fill="#26a69a"/>
<rect x="546" y="350" width="6" height="6" fill="#26a69a"/>
<rect x="554" y="333" width="2" height="30" fill="#26a69a"/>
<rect x="552" y="336" width="6" height="14" fill="#26a69a"/>
<rect x="560" y="321" width="2" height="19" fill="#26a69a"/>
<rect x="558" y="332" width="6" height="4" fill="#26a69a"/>
<rect x="566" y="317" width="2" height="36" fill="#ef5350"/>
<rect x="564" y="332" width="6" height="5" fill="#ef5350"/>
<rect x="571" y="333" width="2" height="28" fill="#ef5350"/>
<rect x="570" y="337" width="5" height="13" fill="#ef5350"/>
<rect x="577" y="338" width="2" height="40" fill="#ef5350"/>
<rect x="575" y="350" width="6" height="26" fill="#ef5350"/>
<rect x="583" y="366" width="2" height="31" fill="#ef5350"/>
<rect x="581" y="376" width="6" height="16" fill="#ef5350"/>
<rect x="589" y="382" width="2" height="21" fill="#26a69a"/>
<rect x="587" y="387" width="6" height="5" fill="#26a69a"/>
<rect x="595" y="371" width="2" height="24" fill="#26a69a"/>
<rect x="593" y="374" width="6" height="13" fill="#26a69a"/>
<rect x="600" y="371" width="2" height="25" fill="#26a69a"/>
<rect x="599" y="372" width="5" height="2" fill="#26a69a"/>
<rect x="606" y="361" width="2" height="21" fill="#ef5350"/>
<rect x="604" y="372" width="6" height="6" fill="#ef5350"/>
<rect x="612" y="370" width="2" height="20" fill="#ef5350"/>
<rect x="610" y="378" width="6" height="8" fill="#ef5350"/>
<rect x="618" y="371" width="2" height="62" fill="#ef5350"/>
<rect x="616" y="386" width="6" height="34" fill="#ef5350"/>
<rect x="624" y="377" width="2" height="47" fill="#26a69a"/>
<rect x="622" y="389" width="6" height="31" fill="#26a69a"/>
<rect x="629" y="371" width="2" height="23" fill="#26a69a"/>
<rect x="628" y="376" width="5" height="13" fill="#26a69a"/>
<rect x="635" y="365" width="2" height="17" fill="#26a69a"/>
<rect x="633" y="373" width="6" height="3" fill="#26a69a"/>
<rect x="641" y="319" width="2" height="59" fill="#26a69a"/>
<rect x="639" y="322" width="6" height="51" fill="#26a69a"/>
<rect x="647" y="321" width="2" height="23" fill="#26a69a"/>
<rect x="645" y="322" width="6" height="2" fill="#26a69a"/>
<rect x="653" y="321" width="2" height="26" fill="#ef5350"/>
<rect x="651" y="322" width="6" height="18" fill="#ef5350"/>
<rect x="658" y="339" width="2" height="36" fill="#ef5350"/>
<rect x="657" y="340" width="5" height="34" fill="#ef5350"/>
<rect x="664" y="368" width="2" height="39" fill="#26a69a"/>
<rect x="662" y="369" width="6" height="5" fill="#26a69a"/>
<rect x="670" y="367" width="2" height="22" fill="#ef5350"/>
<rect x="668" y="369" width="6" height="9" fill="#ef5350"/>
<rect x="676" y="369" width="2" height="18" fill="#26a69a"/>
<rect x="674" y="375" width="6" height="3" fill="#26a69a"/>
<rect x="681" y="337" width="2" height="44" fill="#26a69a"/>
<rect x="680" y="361" width="5" height="14" fill="#26a69a"/>
<rect x="687" y="350" width="2" height="49" fill="#ef5350"/>
<rect x="685" y="361" width="6" height="26" fill="#ef5350"/>
<rect x="693" y="375" width="2" height="23" fill="#26a69a"/>
<rect x="691" y="382" width="6" height="5" fill="#26a69a"/>
<rect x="699" y="379" width="2" height="14" fill="#ef5350"/>
<rect x="697" y="382" width="6" height="4" fill="#ef5350"/>
<rect x="705" y="364" width="2" height="47" fill="#ef5350"/>
<rect x="703" y="386" width="6" height="14" fill="#ef5350"/>
<rect x="710" y="393" width="2" height="35" fill="#ef5350"/>
<rect x="709" y="400" width="5" height="13" fill="#ef5350"/>
<rect x="716" y="399" width="2" height="58" fill="#ef5350"/>
<rect x="714" y="413" width="6" height="14" fill="#ef5350"/>
<rect x="722" y="369" width="2" height="72" fill="#26a69a"/>
<rect x="720" y="377" width="6" height="50" fill="#26a69a"/>
<rect x="728" y="367" width="2" height="18" fill="#26a69a"/>
<rect x="726" y="370" width="6" height="7" fill="#26a69a"/>
<rect x="734" y="346" width="2" height="26" fill="#26a69a"/>
<rect x="732" y="355" width="6" height="15" fill="#26a69a"/>
<rect x="739" y="345" width="2" height="19" fill="#ef5350"/>
<rect x="738" y="355" width="5" height="5" fill="#ef5350"/>
<rect x="745" y="351" width="2" height="15" fill="#26a69a"/>
<rect x="743" y="358" width="6" height="2" fill="#26a69a"/>
<rect x="751" y="352" width="2" height="9" fill="#26a69a"/>
<rect x="749" y="356" width="6" height="2" fill="#26a69a"/>
<rect x="757" y="342" width="2" height="15" fill="#26a69a"/>
<rect x="755" y="344" width="6" height="12" fill="#26a69a"/>
<rect x="763" y="339" width="2" height="23" fill="#ef5350"/>
<rect x="761" y="344" width="6" height="14" fill="#ef5350"/>
<rect x="768" y="353" width="2" height="25" fill="#ef5350"/>
<rect x="767" y="358" width="5" height="16" fill="#ef5350"/>
<rect x="774" y="328" width="2" height="52" fill="#26a69a"/>
<rect x="772" y="338" width="6" height="36" fill="#26a69a"/>
<rect x="780" y="319" width="2" height="23" fill="#26a69a"/>
<rect x="778" y="330" width="6" height="8" fill="#26a69a"/>
<rect x="786" y="328" width="2" height="28" fill="#ef5350"/>
<rect x="784" y="330" width="6" height="18" fill="#ef5350"/>
<rect x="792" y="343" width="2" height="7" fill="#26a69a"/>
<rect x="790" y="345" width="6" height="3" fill="#26a69a"/>
<rect x="797" y="329" width="2" height="21" fill="#26a69a"/>
<rect x="796" y="334" width="5" height="11" fill="#26a69a"/>
<rect x="803" y="329" width="2" height="24" fill="#ef5350"/>
<rect x="801" y="334" width="6" height="11" fill="#ef5350"/>
<rect x="809" y="334" width="2" height="20" fill="#26a69a"/>
<rect x="807" y="337" width="6" height="8" fill="#26a69a"/>
<rect x="815" y="303" width="2" height="41" fill="#26a69a"/>
<rect x="813" y="312" width="6" height="25" fill="#26a69a"/>
<rect x="820" y="249" width="2" height="71" fill="#26a69a"/>
<rect x="819" y="258" width="5" height="54" fill="#26a69a"/>
<rect x="826" y="226" width="2" height="41" fill="#26a69a"/>
<rect x="824" y="241" width="6" height="17" fill="#26a69a"/>
<rect x="832" y="234" width="2" height="14" fill="#ef5350"/>
<rect x="830" y="241" width="6" height="2" fill="#ef5350"/>
<rect x="838" y="219" width="2" height="26" fill="#26a69a"/>
<rect x="836" y="224" width="6" height="18" fill="#26a69a"/>
<rect x="844" y="178" width="2" height="48" fill="#26a69a"/>
<rect x="842" y="215" width="6" height="9" fill="#26a69a"/>
<rect x="849" y="214" width="2" height="47" fill="#ef5350"/>
<rect x="848" y="215" width="5" height="25" fill="#ef5350"/>
<rect x="855" y="213" width="2" height="34" fill="#26a69a"/>
<rect x="853" y="230" width="6" height="10" fill="#26a69a"/>
<rect x="861" y="202" width="2" height="40" fill="#26a69a"/>
<rect x="859" y="223" width="6" height="7" fill="#26a69a"/>
<rect x="867" y="204" width="2" height="45" fill="#ef5350"/>
<rect x="865" y="223" width="6" height="14" fill="#ef5350"/>
<rect x="873" y="230" width="2" height="14" fill="#ef5350"/>
<rect x="871" y="237" width="6" height="2" fill="#ef5350"/>
<rect x="878" y="226" width="2" height="26" fill="#ef5350"/>
<rect x="877" y="238" width="5" height="6" fill="#ef5350"/>
<rect x="884" y="217" width="2" height="35" fill="#26a69a"/>
<rect x="882" y="242" width="6" height="2" fill="#26a69a"/>
<rect x="890" y="211" width="2" height="46" fill="#26a69a"/>
<rect x="888" y="214" width="6" height="28" fill="#26a69a"/>
<rect x="896" y="213" width="2" height="30" fill="#ef5350"/>
<rect x="894" y="214" width="6" height="14" fill="#ef5350"/>
<rect x="902" y="220" width="2" height="26" fill="#ef5350"/>
<rect x="900" y="228" width="6" height="4" fill="#ef5350"/>
<rect x="907" y="231" width="2" height="42" fill="#ef5350"/>
<rect x="906" y="232" width="5" height="9" fill="#ef5350"/>
<rect x="913" y="233" width="2" height="13" fill="#26a69a"/>
<rect x="911" y="237" width="6" height="4" fill="#26a69a"/>
<rect x="919" y="216" width="2" height="22" fill="#26a69a"/>
<rect x="917" y="220" width="6" height="17" fill="#26a69a"/>
<rect x="925" y="216" width="2" height="26" fill="#ef5350"/>
<rect x="923" y="220" width="6" height="15" fill="#ef5350"/>
<rect x="931" y="222" width="2" height="26" fill="#ef5350"/>
<rect x="929" y="235" width="6" height="2" fill="#ef5350"/>
<rect x="936" y="227" width="2" height="34" fill="#ef5350"/>
<rect x="935" y="236" width="5" height="2" fill="#ef5350"/>
<rect x="942" y="226" width="2" height="38" fill="#ef5350"/>
<rect x="940" y="237" width="6" height="25" fill="#ef5350"/>
<rect x="948" y="258" width="2" height="37" fill="#ef5350"/>
<rect x="946" y="262" width="6" height="27" fill="#ef5350"/>
<rect x="954" y="280" width="2" height="23" fill="#ef5350"/>
<rect x="952" y="289" width="6" height="9" fill="#ef5350"/>
<rect x="959" y="272" width="2" height="32" fill="#26a69a"/>
<rect x="958" y="278" width="5" height="20" fill="#26a69a"/>
<rect x="965" y="261" width="2" height="18" fill="#26a69a"/>
<rect x="963" y="269" width="6" height="9" fill="#26a69a"/>
<rect x="971" y="268" width="2" height="28" fill="#ef5350"/>
<rect x="969" y="269" width="6" height="11" fill="#ef5350"/>
<rect x="977" y="261" width="2" height="27" fill="#26a69a"/>
<rect x="975" y="270" width="6" height="10" fill="#26a69a"/>
<rect x="983" y="240" width="2" height="38" fill="#26a69a"/>
<rect x="981" y="242" width="6" height="28" fill="#26a69a"/>
<rect x="988" y="240" width="2" height="20" fill="#ef5350"/>
<rect x="987" y="242" width="5" height="10" fill="#ef5350"/>
<rect x="994" y="237" width="2" height="18" fill="#ef5350"/>
<rect x="992" y="252" width="6" height="2" fill="#ef5350"/>
<rect x="1000" y="221" width="2" height="34" fill="#26a69a"/>
<rect x="998" y="222" width="6" height="32" fill="#26a69a"/>
<rect x="1006" y="188" width="2" height="47" fill="#ef5350"/>
<rect x="1004" y="222" width="6" height="7" fill="#ef5350"/>
<rect x="1012" y="210" width="2" height="24" fill="#26a69a"/>
<rect x="1010" y="212" width="6" height="17" fill="#26a69a"/>
<rect x="1017" y="173" width="2" height="53" fill="#26a69a"/>
<rect x="1016" y="177" width="5" height="35" fill="#26a69a"/>
<rect x="1023" y="164" width="2" height="81" fill="#ef5350"/>
<rect x="1021" y="177" width="6" height="57" fill="#ef5350"/>
<rect x="1029" y="222" width="2" height="27" fill="#ef5350"/>
<rect x="1027" y="234" width="6" height="10" fill="#ef5350"/>
<rect x="1035" y="237" width="2" height="9" fill="#26a69a"/>
<rect x="1033" y="243" width="6" height="2" fill="#26a69a"/>
<rect x="1041" y="230" width="2" height="15" fill="#26a69a"/>
<rect x="1039" y="242" width="6" height="2" fill="#26a69a"/>
<rect x="1046" y="241" width="2" height="32" fill="#ef5350"/>
<rect x="1045" y="242" width="5" height="15" fill="#ef5350"/>
<rect x="1052" y="250" width="2" height="45" fill="#ef5350"/>
<rect x="1050" y="257" width="6" height="37" fill="#ef5350"/>
<rect x="1058" y="274" width="2" height="25" fill="#26a69a"/>
<rect x="1056" y="278" width="6" height="16" fill="#26a69a"/>
<rect x="1064" y="271" width="2" height="32" fill="#ef5350"/>
<rect x="1062" y="278" width="6" height="20" fill="#ef5350"/>
<rect x="1070" y="242" width="2" height="64" fill="#26a69a"/>
<rect x="1068" y="248" width="6" height="50" fill="#26a69a"/>
<rect x="1075" y="247" width="2" height="27" fill="#ef5350"/>
<rect x="1074" y="248" width="5" height="18" fill="#ef5350"/>
<rect x="1081" y="262" width="2" height="56" fill="#ef5350"/>
<rect x="1079" y="266" width="6" height="21" fill="#ef5350"/>
<rect x="1087" y="284" width="2" height="49" fill="#ef5350"/>
<rect x="1085" y="287" width="6" height="38" fill="#ef5350"/>
<rect x="1093" y="299" width="2" height="41" fill="#26a69a"/>
<rect x="1091" y="306" width="6" height="19" fill="#26a69a"/>
<rect x="1099" y="296" width="2" height="25" fill="#ef5350"/>
<rect x="1097" y="306" width="6" height="6" fill="#ef5350"/>
<rect x="1104" y="286" width="2" height="30" fill="#26a69a"/>
<rect x="1103" y="298" width="5" height="14" fill="#26a69a"/>
<rect x="1110" y="296" width="2" height="58" fill="#ef5350"/>
<rect x="1108" y="298" width="6" height="46" fill="#ef5350"/>
<rect x="1116" y="337" width="2" height="18" fill="#26a69a"/>
<rect x="1114" y="339" width="6" height="5" fill="#26a69a"/>
<rect x="1122" y="331" width="2" height="16" fill="#ef5350"/>
<rect x="1120" y="339" width="6" height="7" fill="#ef5350"/>
<rect x="1127" y="326" width="2" height="30" fill="#26a69a"/>
<rect x="1126" y="334" width="5" height="12" fill="#26a69a"/>
<rect x="1133" y="306" width="2" height="37" fill="#26a69a"/>
<rect x="1131" y="311" width="6" height="23" fill="#26a69a"/>
<rect x="1139" y="297" width="2" height="22" fill="#26a69a"/>
<rect x="1137" y="306" width="6" height="5" fill="#26a69a"/>
<rect x="1145" y="301" width="2" height="32" fill="#ef5350"/>
<rect x="1143" y="306" width="6" height="11" fill="#ef5350"/>
<rect x="1151" y="288" width="2" height="35" fill="#ef5350"/>
<rect x="1149" y="317" width="6" height="2" fill="#ef5350"/>
<rect x="1156" y="311" width="2" height="15" fill="#ef5350"/>
<rect x="1155" y="318" width="5" height="6" fill="#ef5350"/>
<rect x="1162" y="307" width="2" height="17" fill="#26a69a"/>
<rect x="1160" y="313" width="6" height="11" fill="#26a69a"/>
<rect x="1168" y="293" width="2" height="25" fill="#26a69a"/>
<rect x="1166" y="302" width="6" height="11" fill="#26a69a"/>
<rect x="1174" y="289" width="2" height="28" fill="#ef5350"/>
<rect x="1172" y="302" width="6" height="6" fill="#ef5350"/>
<rect x="1180" y="277" width="2" height="38" fill="#26a69a"/>
<rect x="1178" y="281" width="6" height="27" fill="#26a69a"/>
<rect x="1185" y="264" width="2" height="23" fill="#26a69a"/>
<rect x="1184" y="264" width="5" height="17" fill="#26a69a"/>
<rect x="1191" y="251" width="2" height="21" fill="#26a69a"/>
<rect x="1189" y="258" width="6" height="6" fill="#26a69a"/>
<rect x="1197" y="255" width="2" height="13" fill="#ef5350"/>
<rect x="1195" y="258" width="6" height="2" fill="#ef5350"/>
<rect x="1203" y="256" width="2" height="12" fill="#ef5350"/>
<rect x="1201" y="259" width="6" height="8" fill="#ef5350"/>
<rect x="1209" y="250" width="2" height="25" fill="#26a69a"/>
<rect x="1207" y="266" width="6" height="2" fill="#26a69a"/>
<rect x="1214" y="248" width="2" height="24" fill="#26a69a"/>
<rect x="1213" y="249" width="5" height="17" fill="#26a69a"/>
<rect x="1220" y="244" width="2" height="29" fill="#ef5350"/>
<rect x="1218" y="249" width="6" height="4" fill="#ef5350"/>
<rect x="1226" y="237" width="2" height="20" fill="#26a69a"/>
<rect x="1224" y="246" width="6" height="7" fill="#26a69a"/>
<rect x="1232" y="242" width="2" height="26" fill="#ef5350"/>
<rect x="1230" y="246" width="6" height="17" fill="#ef5350"/>
<rect x="1238" y="257" width="2" height="8" fill="#26a69a"/>
<rect x="1236" y="262" width="6" height="2" fill="#26a69a"/>
<rect x="1243" y="260" width="2" height="8" fill="#ef5350"/>
<rect x="1242" y="262" width="5" height="6" fill="#ef5350"/>
<rect x="1249" y="265" width="2" height="40" fill="#ef5350"/>
<rect x="1247" y="268" width="6" height="29" fill="#ef5350"/>
<rect x="1255" y="289" width="2" height="20" fill="#ef5350"/>
<rect x="1253" y="297" width="6" height="7" fill="#ef5350"/>
<rect x="1261" y="281" width="2" height="33" fill="#26a69a"/>
<rect x="1259" y="288" width="6" height="16" fill="#26a69a"/>
<rect x="1266" y="286" width="2" height="55" fill="#ef5350"/>
<rect x="1265" y="288" width="5" height="50" fill="#ef5350"/>
<rect x="1272" y="322" width="2" height="19" fill="#26a69a"/>
<rect x="1270" y="330" width="6" height="8" fill="#26a69a"/>
<rect x="1278" y="328" width="2" height="8" fill="#ef5350"/>
<rect x="1276" y="330" width="6" height="2" fill="#ef5350"/>
<rect x="1284" y="299" width="2" height="35" fill="#26a69a"/>
<rect x="1282" y="301" width="6" height="29" fill="#26a69a"/>
<rect x="1290" y="276" width="2" height="32" fill="#26a69a"/>
<rect x="1288" y="277" width="6" height="24" fill="#26a69a"/>
<rect x="1295" y="272" width="2" height="24" fill="#ef5350"/>
<rect x="1294" y="277" width="5" height="4" fill="#ef5350"/>
<rect x="1301" y="229" width="2" height="52" fill="#26a69a"/>
<rect x="1299" y="229" width="6" height="52" fill="#26a69a"/>
<rect x="1307" y="202" width="2" height="31" fill="#26a69a"/>
<rect x="1305" y="208" width="6" height="21" fill="#26a69a"/>
<rect x="1313" y="170" width="2" height="52" fill="#26a69a"/>
<rect x="1311" y="189" width="6" height="19" fill="#26a69a"/>
<rect x="1319" y="182" width="2" height="15" fill="#26a69a"/>
<rect x="1317" y="187" width="6" height="2" fill="#26a69a"/>
<rect x="1324" y="150" width="2" height="40" fill="#26a69a"/>
<rect x="1323" y="175" width="5" height="12" fill="#26a69a"/>
<rect x="1330" y="144" width="2" height="35" fill="#26a69a"/>
<rect x="1328" y="162" width="6" height="13" fill="#26a69a"/>
<rect x="1336" y="156" width="2" height="51" fill="#ef5350"/>
<rect x="1334" y="162" width="6" height="37" fill="#ef5350"/>
<rect x="1342" y="167" width="2" height="34" fill="#26a69a"/>
<rect x="1340" y="177" width="6" height="22" fill="#26a69a"/>
<rect x="1348" y="172" width="2" height="46" fill="#ef5350"/>
<rect x="1346" y="177" width="6" height="19" fill="#ef5350"/>
<rect x="1353" y="185" width="2" height="229" fill="#ef5350"/>
<rect x="1352" y="196" width="5" height="99" fill="#ef5350"/>
<rect x="1359" y="288" width="2" height="42" fill="#ef5350"/>
<rect x="1357" y="295" width="6" height="24" fill="#ef5350"/>
<rect x="1365" y="261" width="2" height="69" fill="#26a69a"/>
<rect x="1363" y="270" width="6" height="49" fill="#26a69a"/>
<rect x="1371" y="259" width="2" height="26" fill="#26a69a"/>
<rect x="1369" y="268" width="6" height="2" fill="#26a69a"/>
<rect x="1377" y="265" width="2" height="62" fill="#ef5350"/>
<rect x="1375" y="268" width="6" height="24" fill="#ef5350"/>
<rect x="1382" y="285" width="2" height="38" fill="#ef5350"/>
<rect x="1381" y="292" width="5" height="26" fill="#ef5350"/>
<rect x="1388" y="303" width="2" height="51" fill="#ef5350"/>
<rect x="1386" y="318" width="6" height="28" fill="#ef5350"/>
<rect x="1394" y="334" width="2" height="64" fill="#ef5350"/>
<rect x="1392" y="346" width="6" height="20" fill="#ef5350"/>
<rect x="1400" y="353" width="2" height="13" fill="#26a69a"/>
<rect x="1398" y="358" width="6" height="8" fill="#26a69a"/>
<rect x="1405" y="331" width="2" height="38" fill="#26a69a"/>
<rect x="1404" y="340" width="5" height="18" fill="#26a69a"/>
<rect x="1411" y="306" width="2" height="48" fill="#26a69a"/>
<rect x="1409" y="320" width="6" height="20" fill="#26a69a"/>
<rect x="1417" y="281" width="2" height="73" fill="#ef5350"/>
<rect x="1415" y="320" width="6" height="24" fill="#ef5350"/>
<rect x="1423" y="335" width="2" height="28" fill="#ef5350"/>
<rect x="1421" y="344" width="6" height="8" fill="#ef5350"/>
<rect x="1429" y="311" width="2" height="42" fill="#26a69a"/>
<rect x="1427" y="324" width="6" height="28" fill="#26a69a"/>
<rect x="1434" y="302" width="2" height="27" fill="#26a69a"/>
<rect x="1433" y="314" width="5" height="10" fill="#26a69a"/>
<rect x="1440" y="304" width="2" height="14" fill="#26a69a"/>
<rect x="1438" y="308" width="6" height="6" fill="#26a69a"/>
<rect x="1446" y="264" width="2" height="47" fill="#26a69a"/>
<rect x="1444" y="274" width="6" height="34" fill="#26a69a"/>
<rect x="1452" y="254" width="2" height="29" fill="#ef5350"/>
<rect x="1450" y="274" width="6" height="6" fill="#ef5350"/>
<rect x="1458" y="257" width="2" height="44" fill="#ef5350"/>
<rect x="1456" y="280" width="6" height="13" fill="#ef5350"/>
<rect x="1463" y="285" width="2" height="49" fill="#ef5350"/>
<rect x="1462" y="293" width="5" height="33" fill="#ef5350"/>
<rect x="1469" y="308" width="2" height="59" fill="#ef5350"/>
<rect x="1467" y="326" width="6" height="18" fill="#ef5350"/>
<rect x="1475" y="312" width="2" height="33" fill="#26a69a"/>
<rect x="1473" y="330" width="6" height="14" fill="#26a69a"/>
<rect x="1481" y="319" width="2" height="13" fill="#26a69a"/>
<rect x="1479" y="324" width="6" height="6" fill="#26a69a"/>
<rect x="1487" y="311" width="2" height="19" fill="#26a69a"/>
<rect x="1485" y="320" width="6" height="4" fill="#26a69a"/>
<rect x="1492" y="317" width="2" height="61" fill="#ef5350"/>
<rect x="1491" y="320" width="5" height="43" fill="#ef5350"/>
<rect x="1498" y="355" width="2" height="94" fill="#ef5350"/>
<rect x="1496" y="363" width="6" height="57" fill="#ef5350"/>
<rect x="1504" y="386" width="2" height="63" fill="#26a69a"/>
<rect x="1502" y="394" width="6" height="26" fill="#26a69a"/>
<rect x="1510" y="390" width="2" height="44" fill="#ef5350"/>
<rect x="1508" y="394" width="6" height="28" fill="#ef5350"/>
<rect x="1516" y="391" width="2" height="54" fill="#26a69a"/>
<rect x="1514" y="400" width="6" height="22" fill="#26a69a"/>
<rect x="1521" y="399" width="2" height="21" fill="#ef5350"/>
<rect x="1520" y="400" width="5" height="12" fill="#ef5350"/>
<rect x="1527" y="376" width="2" height="44" fill="#26a69a"/>
<rect x="1525" y="384" width="6" height="28" fill="#26a69a"/>
<rect x="1533" y="362" width="2" height="27" fill="#26a69a"/>
<rect x="1531" y="370" width="6" height="14" fill="#26a69a"/>
<rect x="1539" y="353" width="2" height="56" fill="#ef5350"/>
<rect x="1537" y="370" width="6" height="34" fill="#ef5350"/>
<rect x="1544" y="377" width="2" height="51" fill="#ef5350"/>
<rect x="1543" y="404" width="5" height="16" fill="#ef5350"/>
<rect x="1550" y="391" width="2" height="68" fill="#ef5350"/>
<rect x="1548" y="420" width="6" height="20" fill="#ef5350"/>
<rect x="1556" y="438" width="2" height="65" fill="#ef5350"/>
<rect x="1554" y="440" width="6" height="58" fill="#ef5350"/>
<rect x="1562" y="472" width="2" height="26" fill="#26a69a"/>
<rect x="1560" y="486" width="6" height="12" fill="#26a69a"/>
<rect x="1568" y="475" width="2" height="40" fill="#ef5350"/>
<rect x="1566" y="486" width="6" height="15" fill="#ef5350"/>
<rect x="1573" y="481" width="2" height="54" fill="#ef5350"/>
<rect x="1572" y="501" width="5" height="23" fill="#ef5350"/>
<rect x="1579" y="506" width="2" height="51" fill="#26a69a"/>
<rect x="1577" y="516" width="6" height="8" fill="#26a69a"/>
<rect x="1585" y="515" width="2" height="48" fill="#ef5350"/>
<rect x="1583" y="516" width="6" height="15" fill="#ef5350"/>
<rect x="1591" y="513" width="2" height="79" fill="#ef5350"/>
<rect x="1589" y="531" width="6" height="55" fill="#ef5350"/>
<rect x="1597" y="577" width="2" height="77" fill="#ef5350"/>
<rect x="1595" y="586" width="6" height="17" fill="#ef5350"/>
<rect x="1602" y="598" width="2" height="22" fill="#ef5350"/>
<rect x="1601" y="603" width="5" height="5" fill="#ef5350"/>
<rect x="1608" y="570" width="2" height="38" fill="#26a69a"/>
<rect x="1606" y="584" width="6" height="24" fill="#26a69a"/>
<rect x="1614" y="557" width="2" height="43" fill="#26a69a"/>
<rect x="1612" y="568" width="6" height="16" fill="#26a69a"/>
<rect x="1620" y="565" width="2" height="27" fill="#ef5350"/>
<rect x="1618" y="568" width="6" height="10" fill="#ef5350"/>
<rect x="1626" y="541" width="2" height="49" fill="#26a69a"/>
<rect x="1624" y="543" width="6" height="35" fill="#26a69a"/>
<rect x="1631" y="527" width="2" height="21" fill="#26a69a"/>
<rect x="1630" y="534" width="5" height="9" fill="#26a69a"/>
<rect x="1637" y="514" width="2" height="32" fill="#ef5350"/>
<rect x="1635" y="534" width="6" height="5" fill="#ef5350"/>
<rect x="1643" y="536" width="2" height="10" fill="#ef5350"/>
<rect x="1641" y="539" width="6" height="2" fill="#ef5350"/>
<rect x="1649" y="526" width="2" height="20" fill="#ef5350"/>
<rect x="1647" y="540" width="6" height="5" fill="#ef5350"/>
<rect x="1655" y="544" width="2" height="74" fill="#ef5350"/>
<rect x="1653" y="545" width="6" height="45" fill="#ef5350"/>
<rect x="1660" y="523" width="2" height="68" fill="#26a69a"/>
<rect x="1659" y="534" width="5" height="56" fill="#26a69a"/>
<rect x="1666" y="502" width="2" height="36" fill="#26a69a"/>
<rect x="1664" y="510" width="6" height="24" fill="#26a69a"/>
<rect x="1672" y="503" width="2" height="36" fill="#ef5350"/>
<rect x="1670" y="510" width="6" height="15" fill="#ef5350"/>
<rect x="1678" y="520" width="2" height="50" fill="#ef5350"/>
<rect x="1676" y="525" width="6" height="31" fill="#ef5350"/>
<rect x="1684" y="545" width="2" height="15" fill="#ef5350"/>
<rect x="1682" y="556" width="6" height="2" fill="#ef5350"/>
<rect x="1689" y="529" width="2" height="44" fill="#26a69a"/>
<rect x="1688" y="544" width="5" height="13" fill="#26a69a"/>
<rect x="1695" y="523" width="2" height="29" fill="#26a69a"/>
<rect x="1693" y="542" width="6" height="2" fill="#26a69a"/>
<rect x="1701" y="497" width="2" height="56" fill="#26a69a"/>
<rect x="1699" y="520" width="6" height="22" fill="#26a69a"/>
<rect x="1707" y="500" width="2" height="30" fill="#ef5350"/>
<rect x="1705" y="520" width="6" height="7" fill="#ef5350"/>
<rect x="1712" y="509" width="2" height="48" fill="#26a69a"/>
<rect x="1711" y="521" width="5" height="6" fill="#26a69a"/>
<rect x="1718" y="518" width="2" height="35" fill="#ef5350"/>
<rect x="1716" y="521" width="6" height="26" fill="#ef5350"/>
<rect x="1724" y="542" width="2" height="8" fill="#ef5350"/>
<rect x="1722" y="547" width="6" height="2" fill="#ef5350"/>
<rect x="1730" y="543" width="2" height="33" fill="#ef5350"/>
<rect x="1728" y="547" width="6" height="23" fill="#ef5350"/>
<rect x="1736" y="548" width="2" height="54" fill="#ef5350"/>
<rect x="1734" y="570" width="6" height="20" fill="#ef5350"/>
<rect x="1741" y="569" width="2" height="32" fill="#26a69a"/>
<rect x="1740" y="573" width="5" height="17" fill="#26a69a"/>
<rect x="1747" y="545" width="2" height="55" fill="#ef5350"/>
<rect x="1745" y="573" width="6" height="17" fill="#ef5350"/>
<rect x="1753" y="554" width="2" height="56" fill="#ef5350"/>
<rect x="1751" y="590" width="6" height="10" fill="#ef5350"/>
<rect x="1759" y="555" width="2" height="47" fill="#26a69a"/>
<rect x="1757" y="570" width="6" height="30" fill="#26a69a"/>
<rect x="1765" y="565" width="2" height="7" fill="#26a69a"/>
<rect x="1763" y="567" width="6" height="3" fill="#26a69a"/>
<rect x="1770" y="559" width="2" height="15" fill="#26a69a"/>
<rect x="1769" y="564" width="5" height="3" fill="#26a69a"/>
<rect x="1776" y="542" width="2" height="30" fill="#ef5350"/>
<rect x="1774" y="564" width="6" height="2" fill="#ef5350"/>
<rect x="1782" y="560" width="2" height="27" fill="#ef5350"/>
<rect x="1780" y="564" width="6" height="14" fill="#ef5350"/>
<rect x="1788" y="570" width="2" height="19" fill="#26a69a"/>
<rect x="1786" y="576" width="6" height="2" fill="#26a69a"/>
<rect x="1794" y="564" width="2" height="19" fill="#ef5350"/>
<rect x="1792" y="576" width="6" height="5" fill="#ef5350"/>
<rect x="1799" y="553" width="2" height="33" fill="#26a69a"/>
<rect x="1798" y="578" width="5" height="3" fill="#26a69a"/>
<rect x="1805" y="571" width="2" height="8" fill="#26a69a"/>
<rect x="1803" y="572" width="6" height="6" fill="#26a69a"/>
<rect x="1811" y="570" width="2" height="7" fill="#26a69a"/>
<rect x="1809" y="571" width="6" height="2" fill="#26a69a"/>
<rect x="1817" y="544" width="2" height="40" fill="#ef5350"/>
<rect x="1815" y="571" width="6" height="10" fill="#ef5350"/>
<rect x="1823" y="555" width="2" height="29" fill="#26a69a"/>
<rect x="1821" y="566" width="6" height="15" fill="#26a69a"/>
<rect x="1828" y="558" width="2" height="21" fill="#ef5350"/>
<rect x="1827" y="566" width="5" height="10" fill="#ef5350"/>
<rect x="1834" y="561" width="2" height="15" fill="#26a69a"/>
<rect x="1832" y="562" width="6" height="14" fill="#26a69a"/>
<rect x="1840" y="538" width="2" height="29" fill="#26a69a"/>
<rect x="1838" y="549" width="6" height="13" fill="#26a69a"/>
<rect x="1846" y="540" width="2" height="15" fill="#26a69a"/>
<rect x="1844" y="542" width="6" height="7" fill="#26a69a"/>
<rect x="1851" y="528" width="2" height="15" fill="#26a69a"/>
<rect x="1850" y="532" width="5" height="10" fill="#26a69a"/>
<rect x="1857" y="495" width="2" height="38" fill="#26a69a"/>
<rect x="1855" y="506" width="6" height="26" fill="#26a69a"/>
<rect x="1863" y="499" width="2" height="36" fill="#ef5350"/>
<rect x="1861" y="506" width="6" height="2" fill="#ef5350"/>
<rect x="1869" y="506" width="2" height="35" fill="#ef5350"/>
<rect x="1867" y="507" width="6" height="27" fill="#ef5350"/>
<rect x="1875" y="530" width="2" height="26" fill="#ef5350"/>
<rect x="1873" y="534" width="6" height="2" fill="#ef5350"/>
<rect x="1880" y="525" width="2" height="27" fill="#ef5350"/>
<rect x="1879" y="536" width="5" height="5" fill="#ef5350"/>
<rect x="1886" y="539" width="2" height="5" fill="#ef5350"/>
<rect x="1884" y="541" width="6" height="2" fill="#ef5350"/>
<rect x="1892" y="534" width="2" height="12" fill="#26a69a"/>
<rect x="1890" y="537" width="6" height="5" fill="#26a69a"/>
<rect x="1898" y="521" width="2" height="26" fill="#26a69a"/>
<rect x="1896" y="534" width="6" height="3" fill="#26a69a"/>
<rect x="1904" y="476" width="2" height="61" fill="#26a69a"/>
<rect x="1902" y="488" width="6" height="46" fill="#26a69a"/>
<rect x="1909" y="460" width="2" height="38" fill="#26a69a"/>
<rect x="1908" y="471" width="5" height="17" fill="#26a69a"/>
<rect x="1915" y="468" width="2" height="23" fill="#ef5350"/>
<rect x="1913" y="471" width="6" height="15" fill="#ef5350"/>
<rect x="1921" y="483" width="2" height="18" fill="#ef5350"/>
<rect x="1919" y="486" width="6" height="2" fill="#ef5350"/>
<rect x="1927" y="486" width="2" height="7" fill="#ef5350"/>
<rect x="1925" y="487" width="6" height="5" fill="#ef5350"/>
<rect x="1933" y="487" width="2" height="22" fill="#ef5350"/>
<rect x="1931" y="492" width="6" height="17" fill="#ef5350"/>
<rect x="1938" y="508" width="2" height="19" fill="#ef5350"/>
<rect x="1937" y="509" width="5" height="11" fill="#ef5350"/>
<rect x="1944" y="517" width="2" height="55" fill="#ef5350"/>
<rect x="1942" y="520" width="6" height="47" fill="#ef5350"/>
<rect x="1950" y="542" width="2" height="37" fill="#26a69a"/>
<rect x="1948" y="555" width="6" height="12" fill="#26a69a"/>
<rect x="1956" y="545" width="2" height="20" fill="#26a69a"/>
<rect x="1954" y="554" width="6" height="2" fill="#26a69a"/>
<rect x="1962" y="535" width="2" height="30" fill="#26a69a"/>
<rect x="1960" y="552" width="6" height="2" fill="#26a69a"/>
<rect x="1967" y="549" width="2" height="9" fill="#ef5350"/>
<rect x="1966" y="552" width="5" height="6" fill="#ef5350"/>
<rect x="1973" y="556" width="2" height="36" fill="#ef5350"/>
<rect x="1971" y="558" width="6" height="29" fill="#ef5350"/>
<rect x="1979" y="561" width="2" height="27" fill="#26a69a"/>
<rect x="1977" y="567" width="6" height="20" fill="#26a69a"/>
<rect x="1985" y="554" width="2" height="25" fill="#26a69a"/>
<rect x="1983" y="558" width="6" height="9" fill="#26a69a"/>
<rect x="1990" y="542" width="2" height="19" fill="#26a69a"/>
<rect x="1989" y="556" width="5" height="2" fill="#26a69a"/>
<rect x="1996" y="556" width="2" height="67" fill="#ef5350"/>
<rect x="1994" y="556" width="6" height="53" fill="#ef5350"/>
<rect x="2002" y="607" width="2" height="41" fill="#ef5350"/>
<rect x="2000" y="609" width="6" height="4" fill="#ef5350"/>
<rect x="2008" y="613" width="2" height="95" fill="#ef5350"/>
<rect x="2006" y="613" width="6" height="61" fill="#ef5350"/>
<rect x="2014" y="667" width="2" height="41" fill="#ef5350"/>
<rect x="2012" y="674" width="6" height="21" fill="#ef5350"/>
<rect x="2019" y="667" width="2" height="54" fill="#26a69a"/>
<rect x="2018" y="674" width="5" height="21" fill="#26a69a"/>
<rect x="2025" y="669" width="2" height="70" fill="#ef5350"/>
<rect x="2023" y="674" width="6" height="34" fill="#ef5350"/>
<rect x="2031" y="694" width="2" height="56" fill="#ef5350"/>
<rect x="2029" y="708" width="6" height="30" fill="#ef5350"/>
<rect x="2037" y="736" width="2" height="121" fill="#ef5350"/>
<rect x="2035" y="738" width="6" height="114" fill="#ef5350"/>
<rect x="2043" y="752" width="2" height="132" fill="#26a69a"/>
<rect x="2041" y="766" width="6" height="86" fill="#26a69a"/>
<rect x="2048" y="753" width="2" height="49" fill="#ef5350"/>
<rect x="2047" y="766" width="5" height="14" fill="#ef5350"/>
<rect x="2054" y="763" width="2" height="22" fill="#26a69a"/>
<rect x="2052" y="770" width="6" height="10" fill="#26a69a"/>
</g>
<line x1="20" y1="769" x2="2116" y2="769" stroke="#26a69a" stroke-width="2" stroke-dasharray="2 4" shape-rendering="crispEdges"/>
<g>

</g>
<polygon clip-path="url(#p2)" points="453.6,1002.0 457.0,953.5 462.8,963.8 468.6,943.4 474.4,968.4 479.1,1002.0" fill="url(#gob)"/>
<polygon clip-path="url(#p2)" points="482.8,1002.0 486.0,992.1 488.7,1002.0" fill="url(#gob)"/>
<polygon clip-path="url(#p2)" points="512.4,1002.0 515.0,979.6 518.9,1002.0" fill="url(#gob)"/>
<polygon clip-path="url(#p2)" points="523.8,1002.0 526.5,992.4 532.3,957.4 538.1,935.6 541.2,1002.0" fill="url(#gob)"/>
<polygon clip-path="url(#p2)" points="821.5,1002.0 821.9,996.0 827.7,977.3 833.5,979.2 839.3,960.8 845.1,951.5 849.2,1002.0" fill="url(#gob)"/>
<polygon clip-path="url(#p2)" points="862.4,1002.0 862.5,1001.9 862.5,1002.0" fill="url(#gob)"/>
<polygon clip-path="url(#p2)" points="1323.5,1002.0 1325.8,996.3 1331.6,981.5 1332.9,1002.0" fill="url(#gob)"/>
<polygon clip-path="url(#p2)" points="1910.8,1002.0 1910.8,1001.6 1910.9,1002.0" fill="url(#gob)"/>
<polygon clip-path="url(#p2)" points="40.0,1348.0 45.8,1396.0 51.6,1382.4 57.4,1386.6 61.7,1348.0" fill="url(#gos)"/>
<polygon clip-path="url(#p2)" points="1571.8,1348.0 1574.9,1358.4 1578.6,1348.0" fill="url(#gos)"/>
<polygon clip-path="url(#p2)" points="1583.3,1348.0 1586.5,1355.3 1592.3,1396.8 1598.1,1407.8 1603.9,1410.5 1609.7,1360.1 1611.8,1348.0" fill="url(#gos)"/>
<polygon clip-path="url(#p2)" points="2006.2,1348.0 2009.3,1387.0 2015.1,1404.6 2020.9,1352.0 2026.7,1384.1 2032.5,1407.4 2038.3,1468.5 2043.1,1348.0" fill="url(#gos)"/>
<line x1="20" y1="1002" x2="2116" y2="1002" stroke="#787b86" stroke-width="2" stroke-dasharray="10 12" shape-rendering="crispEdges"/>
<line x1="20" y1="1175" x2="2116" y2="1175" stroke="#9598a1" stroke-width="2" stroke-dasharray="10 12" shape-rendering="crispEdges"/>
<line x1="20" y1="1348" x2="2116" y2="1348" stroke="#787b86" stroke-width="2" stroke-dasharray="10 12" shape-rendering="crispEdges"/>
<polyline clip-path="url(#p2)" points="22.6,1203.1 28.4,1213.9 34.2,1307.2 40.0,1347.8 45.8,1396.0 51.6,1382.4 57.4,1386.6 63.2,1334.3 69.0,1163.8 74.8,1267.7 80.5,1250.0 86.3,1200.8 92.1,1209.1 97.9,1246.7 103.7,1253.7 109.5,1309.5 115.3,1328.3 121.1,1258.4 126.9,1246.1 132.7,1273.6 138.5,1229.6 144.3,1224.3 150.1,1246.1 155.8,1222.4 161.6,1238.9 167.4,1175.0 173.2,1209.9 179.0,1210.3 184.8,1214.7 190.6,1177.8 196.4,1157.5 202.2,1158.0 208.0,1167.7 213.8,1161.5 219.6,1212.8 225.3,1241.4 231.1,1245.7 236.9,1240.2 242.7,1183.2 248.5,1230.9 254.3,1214.4 260.1,1201.0 265.9,1208.3 271.7,1292.3 277.5,1274.7 283.3,1312.8 289.1,1189.1 294.9,1232.2 300.6,1171.9 306.4,1146.7 312.2,1169.9 318.0,1157.6 323.8,1173.7 329.6,1165.7 335.4,1151.5 341.2,1161.5 347.0,1150.0 352.8,1145.1 358.6,1105.2 364.4,1025.4 370.2,1022.9 375.9,1020.2 381.7,1011.6 387.5,1013.3 393.3,1038.5 399.1,1019.9 404.9,1042.3 410.7,1044.2 416.5,1007.7 422.3,1002.7 428.1,1035.5 433.9,1087.0 439.7,1078.1 445.4,1037.7 451.2,1035.2 457.0,953.5 462.8,963.8 468.6,943.4 474.4,968.4 480.2,1010.3 486.0,992.1 491.8,1013.1 497.6,1008.8 503.4,1018.0 509.2,1031.2 515.0,979.6 520.7,1012.7 526.5,992.4 532.3,957.4 538.1,935.6 543.9,1062.3 549.7,1055.7 555.5,1037.9 561.3,1033.0 567.1,1045.2 572.9,1079.2 578.7,1138.4 584.5,1172.7 590.3,1161.1 596.0,1136.7 601.8,1132.8 607.6,1146.0 613.4,1166.6 619.2,1240.0 625.0,1170.6 630.8,1144.3 636.6,1139.5 642.4,1057.0 648.2,1056.1 654.0,1101.5 659.8,1170.8 665.5,1161.2 671.3,1177.5 677.1,1173.1 682.9,1144.3 688.7,1197.4 694.5,1188.4 700.3,1195.4 706.1,1225.7 711.9,1250.5 717.7,1274.6 723.5,1161.4 729.3,1147.0 735.1,1121.2 740.8,1131.2 746.6,1127.0 752.4,1123.2 758.2,1099.3 764.0,1136.2 769.8,1178.9 775.6,1103.3 781.4,1089.1 787.2,1134.9 793.0,1128.3 798.8,1106.6 804.6,1136.0 810.4,1118.3 816.1,1070.5 821.9,996.0 827.7,977.3 833.5,979.2 839.3,960.8 845.1,951.5 850.9,1023.0 856.7,1010.2 862.5,1001.9 868.3,1042.1 874.1,1044.5 879.9,1064.1 885.6,1061.0 891.4,1013.3 897.2,1057.2 903.0,1069.8 908.8,1095.9 914.6,1088.3 920.4,1054.2 926.2,1101.2 932.0,1103.2 937.8,1108.1 943.6,1181.0 949.4,1244.9 955.2,1262.8 960.9,1207.0 966.7,1184.4 972.5,1208.8 978.3,1183.6 984.1,1119.1 989.9,1144.3 995.7,1150.8 1001.5,1084.1 1007.3,1102.2 1013.1,1070.9 1018.9,1017.1 1024.7,1148.4 1030.5,1167.4 1036.2,1166.2 1042.0,1164.8 1047.8,1194.4 1053.6,1260.4 1059.4,1225.3 1065.2,1256.8 1071.0,1162.2 1076.8,1191.4 1082.6,1223.6 1088.4,1274.2 1094.2,1239.8 1100.0,1247.7 1105.7,1220.2 1111.5,1281.1 1117.3,1272.4 1123.1,1280.9 1128.9,1256.4 1134.7,1210.6 1140.5,1201.8 1146.3,1220.3 1152.1,1221.1 1157.9,1232.0 1163.7,1207.8 1169.5,1182.5 1175.3,1195.8 1181.0,1137.2 1186.8,1105.6 1192.6,1095.1 1198.4,1096.9 1204.2,1118.3 1210.0,1115.8 1215.8,1081.0 1221.6,1094.1 1227.4,1078.6 1233.2,1131.3 1239.0,1128.4 1244.8,1146.9 1250.6,1226.1 1256.3,1242.4 1262.1,1195.8 1267.9,1294.8 1273.7,1272.7 1279.5,1273.9 1285.3,1197.3 1291.1,1145.6 1296.9,1154.0 1302.7,1064.3 1308.5,1036.1 1314.3,1013.3 1320.1,1010.3 1325.8,996.3 1331.6,981.5 1337.4,1077.4 1343.2,1047.3 1349.0,1089.2 1354.8,1245.5 1360.6,1271.9 1366.4,1199.7 1372.2,1196.9 1378.0,1225.9 1383.8,1255.5 1389.6,1284.8 1395.4,1304.1 1401.1,1290.0 1406.9,1260.1 1412.7,1225.1 1418.5,1255.6 1424.3,1265.0 1430.1,1216.6 1435.9,1200.5 1441.7,1189.5 1447.5,1138.7 1453.3,1148.0 1459.1,1171.1 1464.9,1220.5 1470.6,1246.5 1476.4,1221.0 1482.2,1209.5 1488.0,1200.7 1493.8,1265.5 1499.6,1328.1 1505.4,1279.9 1511.2,1308.5 1517.0,1269.4 1522.8,1281.7 1528.6,1235.1 1534.4,1212.3 1540.2,1253.8 1545.9,1272.0 1551.7,1294.4 1557.5,1346.4 1563.3,1326.0 1569.1,1339.1 1574.9,1358.4 1580.7,1342.1 1586.5,1355.3 1592.3,1396.8 1598.1,1407.8 1603.9,1410.5 1609.7,1360.1 1615.5,1327.8 1621.2,1337.4 1627.0,1269.3 1632.8,1252.8 1638.6,1259.2 1644.4,1260.1 1650.2,1267.9 1656.0,1324.2 1661.8,1218.8 1667.6,1181.8 1673.4,1202.8 1679.2,1242.9 1685.0,1243.7 1690.7,1221.0 1696.5,1218.0 1702.3,1177.4 1708.1,1189.4 1713.9,1179.3 1719.7,1222.6 1725.5,1223.4 1731.3,1259.1 1737.1,1287.8 1742.9,1251.3 1748.7,1276.4 1754.5,1289.6 1760.3,1222.8 1766.0,1218.0 1771.8,1210.4 1777.6,1211.7 1783.4,1237.4 1789.2,1232.2 1795.0,1243.2 1800.8,1235.0 1806.6,1216.2 1812.4,1214.1 1818.2,1239.3 1824.0,1192.9 1829.8,1217.9 1835.6,1177.1 1841.3,1142.1 1847.1,1124.0 1852.9,1099.2 1858.7,1043.6 1864.5,1046.6 1870.3,1133.9 1876.1,1141.6 1881.9,1156.4 1887.7,1158.5 1893.5,1142.8 1899.3,1135.3 1905.1,1028.9 1910.8,1001.6 1916.6,1052.3 1922.4,1054.0 1928.2,1071.5 1934.0,1127.0 1939.8,1159.4 1945.6,1265.4 1951.4,1234.3 1957.2,1230.8 1963.0,1227.0 1968.8,1238.9 1974.6,1298.0 1980.4,1240.5 1986.1,1214.4 1991.9,1210.4 1997.7,1308.4 2003.5,1315.3 2009.3,1387.0 2015.1,1404.6 2020.9,1352.0 2026.7,1384.1 2032.5,1407.4 2038.3,1468.5 2044.1,1325.0 2049.9,1334.8 2055.7,1318.7" fill="none" stroke="#7e57c2" stroke-width="2" stroke-linejoin="round" stroke-linecap="round"/>
<polyline clip-path="url(#p2)" points="22.6,1214.6 28.4,1212.9 34.2,1219.6 40.0,1226.9 45.8,1241.3 51.6,1252.9 57.4,1266.3 63.2,1276.0 69.0,1271.4 74.8,1273.6 80.5,1274.4 86.3,1273.8 92.1,1277.1 97.9,1279.2 103.7,1282.9 109.5,1289.7 115.3,1291.2 121.1,1284.8 126.9,1274.1 132.7,1266.3 138.5,1255.1 144.3,1247.3 150.1,1253.1 155.8,1249.9 161.6,1249.1 167.4,1247.3 173.2,1247.3 179.0,1244.7 184.8,1241.9 190.6,1232.5 196.4,1220.3 202.2,1213.2 208.0,1207.6 213.8,1199.6 219.6,1198.4 225.3,1199.6 231.1,1199.5 236.9,1200.8 242.7,1196.8 248.5,1200.8 254.3,1201.2 260.1,1200.5 265.9,1200.0 271.7,1208.2 277.5,1216.6 283.3,1227.6 289.1,1229.2 294.9,1234.2 300.6,1231.3 306.4,1224.5 312.2,1219.1 318.0,1213.2 323.8,1212.5 329.6,1207.9 335.4,1203.4 341.2,1200.6 347.0,1196.4 352.8,1185.9 358.6,1173.8 364.4,1153.3 370.2,1141.4 375.9,1126.2 381.7,1114.8 387.5,1105.3 393.3,1095.9 399.1,1086.1 404.9,1076.7 410.7,1068.0 416.5,1057.7 422.3,1046.4 428.1,1038.2 433.9,1034.0 439.7,1032.1 445.4,1033.0 451.2,1033.9 457.0,1029.1 462.8,1025.7 468.6,1020.7 474.4,1015.7 480.2,1015.0 486.0,1011.4 491.8,1009.2 497.6,1009.3 503.4,1010.4 509.2,1010.0 515.0,1002.4 520.7,997.7 526.5,994.5 532.3,988.9 538.1,987.6 543.9,994.7 549.7,1002.7 555.5,1007.7 561.3,1009.3 567.1,1013.1 572.9,1017.8 578.7,1027.0 584.5,1038.1 590.3,1047.4 596.0,1058.6 601.8,1067.2 607.6,1078.1 613.4,1093.1 619.2,1114.8 625.0,1122.6 630.8,1128.9 636.6,1136.1 642.4,1137.9 648.2,1138.6 654.0,1140.2 659.8,1142.6 665.5,1141.7 671.3,1142.9 677.1,1145.5 682.9,1146.3 688.7,1150.0 694.5,1151.6 700.3,1148.4 706.1,1152.3 711.9,1159.9 717.7,1169.6 723.5,1177.0 729.3,1183.5 735.1,1184.9 740.8,1182.1 746.6,1179.6 752.4,1175.8 758.2,1170.5 764.0,1169.9 769.8,1168.6 775.6,1162.5 781.4,1154.9 787.2,1148.4 793.0,1139.7 798.8,1127.7 804.6,1125.9 810.4,1123.8 816.1,1120.2 821.9,1110.5 827.7,1099.9 833.5,1089.6 839.3,1079.7 845.1,1066.5 850.9,1055.3 856.7,1048.7 862.5,1042.5 868.3,1035.8 874.1,1029.8 879.9,1026.8 885.6,1021.5 891.4,1014.0 897.2,1013.0 903.0,1018.3 908.8,1026.7 914.6,1034.5 920.4,1041.2 926.2,1051.9 932.0,1057.6 937.8,1064.6 943.6,1077.4 949.4,1091.9 955.2,1107.5 960.9,1117.7 966.7,1126.5 972.5,1140.5 978.3,1149.5 984.1,1153.0 989.9,1156.5 995.7,1161.0 1001.5,1163.1 1007.3,1163.2 1013.1,1160.9 1018.9,1154.4 1024.7,1152.0 1030.5,1146.5 1036.2,1139.6 1042.0,1136.6 1047.8,1137.3 1053.6,1141.0 1059.4,1144.0 1065.2,1153.8 1071.0,1155.1 1076.8,1158.0 1082.6,1167.9 1088.4,1180.2 1094.2,1192.3 1100.0,1208.8 1105.7,1213.9 1111.5,1222.0 1117.3,1229.6 1123.1,1237.9 1128.9,1242.3 1134.7,1238.8 1140.5,1237.1 1146.3,1234.5 1152.1,1238.7 1157.9,1241.6 1163.7,1240.5 1169.5,1233.9 1175.3,1230.8 1181.0,1222.9 1186.8,1214.7 1192.6,1201.4 1198.4,1188.9 1204.2,1177.2 1210.0,1167.2 1215.8,1157.9 1221.6,1150.3 1227.4,1140.1 1233.2,1133.7 1239.0,1126.3 1244.8,1122.0 1250.6,1125.1 1256.3,1128.4 1262.1,1132.6 1267.9,1146.1 1273.7,1158.8 1279.5,1171.4 1285.3,1177.1 1291.1,1179.2 1296.9,1184.4 1302.7,1182.3 1308.5,1179.2 1314.3,1170.8 1320.1,1162.4 1325.8,1151.6 1331.6,1134.2 1337.4,1122.4 1343.2,1111.8 1349.0,1097.1 1354.8,1095.2 1360.6,1095.0 1366.4,1095.2 1372.2,1098.8 1378.0,1104.0 1383.8,1117.6 1389.6,1135.4 1395.4,1156.2 1401.1,1176.2 1406.9,1195.0 1412.7,1212.4 1418.5,1225.1 1424.3,1240.7 1430.1,1249.8 1435.9,1246.5 1441.7,1240.7 1447.5,1236.3 1453.3,1232.8 1459.1,1228.9 1464.9,1226.4 1470.6,1223.7 1476.4,1217.7 1482.2,1212.0 1488.0,1207.7 1493.8,1210.6 1499.6,1215.8 1505.4,1216.9 1511.2,1223.4 1517.0,1228.3 1522.8,1234.9 1528.6,1241.8 1534.4,1246.4 1540.2,1252.3 1545.9,1256.0 1551.7,1259.4 1557.5,1268.4 1563.3,1276.7 1569.1,1286.6 1574.9,1293.2 1580.7,1294.2 1586.5,1299.6 1592.3,1305.9 1598.1,1315.8 1603.9,1325.0 1609.7,1333.9 1615.5,1342.2 1621.2,1348.2 1627.0,1348.0 1632.8,1345.0 1638.6,1338.8 1644.4,1334.0 1650.2,1329.0 1656.0,1326.5 1661.8,1317.7 1667.6,1305.3 1673.4,1291.5 1679.2,1279.7 1685.0,1267.8 1690.7,1257.9 1696.5,1250.0 1702.3,1238.6 1708.1,1232.9 1713.9,1227.6 1719.7,1225.0 1725.5,1222.4 1731.3,1221.7 1737.1,1219.1 1742.9,1221.5 1748.7,1228.2 1754.5,1234.4 1760.3,1233.0 1766.0,1231.2 1771.8,1230.4 1777.6,1229.9 1783.4,1234.2 1789.2,1237.3 1795.0,1241.9 1800.8,1242.7 1806.6,1242.2 1812.4,1239.0 1818.2,1235.6 1824.0,1231.4 1829.8,1227.2 1835.6,1219.2 1841.3,1213.4 1847.1,1206.7 1852.9,1198.7 1858.7,1186.7 1864.5,1173.1 1870.3,1166.1 1876.1,1158.8 1881.9,1153.2 1887.7,1149.1 1893.5,1144.0 1899.3,1136.6 1905.1,1124.9 1910.8,1109.4 1916.6,1100.5 1922.4,1094.2 1928.2,1090.4 1934.0,1092.4 1939.8,1100.7 1945.6,1116.3 1951.4,1123.5 1957.2,1129.9 1963.0,1134.9 1968.8,1140.7 1974.6,1151.7 1980.4,1159.3 1986.1,1172.5 1991.9,1187.4 1997.7,1205.7 2003.5,1224.4 2009.3,1246.9 2015.1,1266.7 2020.9,1280.5 2026.7,1289.0 2032.5,1301.3 2038.3,1318.3 2044.1,1325.3 2049.9,1332.2 2055.7,1333.6" fill="none" stroke="#fdd835" stroke-width="2" stroke-linejoin="round" stroke-linecap="round"/>
<g fill="none" shape-rendering="crispEdges">
<rect x="20" y="54" width="2268" height="1386" stroke="#f2f3f5" stroke-width="2"/>
<line x1="2117" y1="54" x2="2117" y2="1440" stroke="#e0e3eb" stroke-width="2"/>
<line x1="20" y1="959" x2="2288" y2="959" stroke="#e0e3eb" stroke-width="2"/>
<line x1="20" y1="1385" x2="2288" y2="1385" stroke="#e1e2e5" stroke-width="2"/>
</g>
<text x="21" y="40.3" font-size="24" fill="#131722" textLength="773.2" lengthAdjust="spacingAndGlyphs">tomlexzope created with TradingView.com, Feb 08, 2026 09:42 UTC</text>
<text x="35.56" y="94" font-size="24" fill="#131722" textLength="78.4" lengthAdjust="spacingAndGlyphs">Bitcoin</text>
<text x="120.9" y="94" font-size="24" fill="#131722" textLength="5.6" lengthAdjust="spacingAndGlyphs">/</text>
<text x="135.12" y="94" font-size="24" fill="#131722" textLength="104.4" lengthAdjust="spacingAndGlyphs">TetherUS</text>
<text x="249.8" y="94" font-size="24" fill="#131722" text-anchor="middle">·</text>
<text x="259.78" y="94" font-size="24" fill="#131722" textLength="28.8" lengthAdjust="spacingAndGlyphs">1D</text>
<text x="299.0" y="94" font-size="24" fill="#131722" text-anchor="middle">·</text>
<text x="308.73" y="94" font-size="24" fill="#131722" textLength="91.0" lengthAdjust="spacingAndGlyphs">Binance</text>
<text x="413.53" y="94" font-size="24" fill="#131722" textLength="18.13" lengthAdjust="spacingAndGlyphs">O</text>
<text x="432.13" y="94" font-size="24" fill="#26a69a" textLength="114.7" lengthAdjust="spacingAndGlyphs">69,289.37</text>
<text x="560.4" y="94" font-size="24" fill="#131722" textLength="18.6" lengthAdjust="spacingAndGlyphs">H</text>
<text x="579.55" y="94" font-size="24" fill="#26a69a" textLength="112.1" lengthAdjust="spacingAndGlyphs">70,796.99</text>
<text x="706.8" y="94" font-size="24" fill="#131722" textLength="12.6" lengthAdjust="spacingAndGlyphs">L</text>
<text x="719.91" y="94" font-size="24" fill="#26a69a" textLength="116.4" lengthAdjust="spacingAndGlyphs">68,888.00</text>
<text x="850.89" y="94" font-size="24" fill="#131722" textLength="17.54" lengthAdjust="spacingAndGlyphs">C</text>
<text x="869.14" y="94" font-size="24" fill="#26a69a" textLength="113.1" lengthAdjust="spacingAndGlyphs">70,234.54</text>
<text x="996.15" y="94" font-size="24" fill="#26a69a" textLength="201.6" lengthAdjust="spacingAndGlyphs">+945.16 (+1.36%)</text>
<text x="36.8" y="127.8" font-size="24" fill="#131722" textLength="102.6" lengthAdjust="spacingAndGlyphs">Vol · BTC</text>
<text x="152.37" y="127.8" font-size="24" fill="#26a69a" textLength="67.8" lengthAdjust="spacingAndGlyphs">7.48 K</text>
<text x="36.24" y="161.8" font-size="24" fill="#131722" textLength="179.45" lengthAdjust="spacingAndGlyphs">SMA (50, close)</text>
<text x="230.11" y="161.8" font-size="24" fill="#2962ff" textLength="105.8" lengthAdjust="spacingAndGlyphs">87,017.34</text>
<text x="35.29" y="999.5" font-size="24" fill="#131722" textLength="162.3" lengthAdjust="spacingAndGlyphs">RSI (14, close)</text>
<text x="211.82" y="999.5" font-size="24" fill="#7e57c2" textLength="65.3" lengthAdjust="spacingAndGlyphs">33.29</text>
<text x="290.96" y="999.5" font-size="24" fill="#fdd835" textLength="62.6" lengthAdjust="spacingAndGlyphs">31.46</text>
<text x="2133.98" y="890.2" font-size="24" fill="#131722" textLength="119.7" lengthAdjust="spacingAndGlyphs">60,000.00</text>
<text x="2133.98" y="666.2" font-size="24" fill="#131722" textLength="119.7" lengthAdjust="spacingAndGlyphs">80,000.00</text>
<text x="2133.98" y="555.2" font-size="24" fill="#131722" textLength="119.7" lengthAdjust="spacingAndGlyphs">90,000.00</text>
<text x="2134.76" y="443.2" font-size="24" fill="#131722" textLength="134.06" lengthAdjust="spacingAndGlyphs">100,000.00</text>
<text x="2134.76" y="331.2" font-size="24" fill="#131722" textLength="134.06" lengthAdjust="spacingAndGlyphs">110,000.00</text>
<text x="2134.76" y="220.2" font-size="24" fill="#131722" textLength="134.06" lengthAdjust="spacingAndGlyphs">120,000.00</text>
<text x="2134.29" y="1011.2" font-size="24" fill="#131722" textLength="66.86" lengthAdjust="spacingAndGlyphs">70.00</text>
<text x="2134.29" y="1097.2" font-size="24" fill="#131722" textLength="66.86" lengthAdjust="spacingAndGlyphs">60.00</text>
<text x="2134.29" y="1184.2" font-size="24" fill="#131722" textLength="66.86" lengthAdjust="spacingAndGlyphs">50.00</text>
<text x="2134.29" y="1271.2" font-size="24" fill="#131722" textLength="66.86" lengthAdjust="spacingAndGlyphs">40.00</text>
<text x="2134.29" y="1357.2" font-size="24" fill="#131722" textLength="66.86" lengthAdjust="spacingAndGlyphs">30.00</text>
<rect x="2124.3" y="62.3" width="155.5" height="51.3" rx="7.5" fill="#fff" stroke="#f2f3f5" stroke-width="2"/>
<text x="2141.91" y="95.9" font-size="24" fill="#0b0d12" textLength="64.63" lengthAdjust="spacingAndGlyphs">USDT</text>
<path d="M2118 752 H2262 a4 4 0 0 1 4 4 V810 a4 4 0 0 1 -4 4 H2118 Z" fill="#26a69a"/>
<text x="2134.38" y="776.1" font-size="24" fill="#fff" textLength="119.13" lengthAdjust="spacingAndGlyphs">70,234.54</text>
<text x="2135.18" y="804.1" font-size="24" fill="#d4eeeb" textLength="103.44" lengthAdjust="spacingAndGlyphs">14:17:57</text>
<text transform="translate(63,1421.8) scale(1.045,1)" font-size="24" fill="#131722" text-anchor="middle">Mar</text>
<text transform="translate(242,1421.8) scale(1.045,1)" font-size="24" fill="#131722" text-anchor="middle">Apr</text>
<text transform="translate(416,1421.8) scale(1.045,1)" font-size="24" fill="#131722" text-anchor="middle">May</text>
<text transform="translate(596,1421.8) scale(1.045,1)" font-size="24" fill="#131722" text-anchor="middle">Jun</text>
<text transform="translate(769,1421.8) scale(1.045,1)" font-size="24" fill="#131722" text-anchor="middle">Jul</text>
<text transform="translate(949,1421.8) scale(1.045,1)" font-size="24" fill="#131722" text-anchor="middle">Aug</text>
<text transform="translate(1128,1421.8) scale(1.045,1)" font-size="24" fill="#131722" text-anchor="middle">Sep</text>
<text transform="translate(1302,1421.8) scale(1.045,1)" font-size="24" fill="#131722" text-anchor="middle">Oct</text>
<text transform="translate(1482,1421.8) scale(1.045,1)" font-size="24" fill="#131722" text-anchor="middle">Nov</text>
<text transform="translate(1656,1421.8) scale(1.045,1)" font-size="24" fill="#131722" text-anchor="middle">Dec</text>
<text transform="translate(1835.5,1421.8) scale(1.198,1)" font-size="24" fill="#131722" text-anchor="middle" font-weight="bold">2026</text>
<text transform="translate(2015,1421.8) scale(1.045,1)" font-size="24" fill="#131722" text-anchor="middle">Feb</text>
<circle cx="2055.0" cy="933.1" r="22.6" fill="#fff"/>
<circle cx="2055.0" cy="933.1" r="19.5" fill="none" stroke="#9c27b0" stroke-width="3"/>
<path d="M2059.99 922.23 L2055.50 931.40 L2064.00 932.25 L2050.47 944.00 L2048.27 942.30 L2054.80 934.80 L2045.90 933.65 L2059.15 922.02 Z" fill="#9c27b0" stroke="#9c27b0" stroke-width="0.6" stroke-linejoin="round" stroke-linecap="round"/>
<circle cx="2068.86" cy="919.12" r="8.7" fill="#fff"/><circle cx="2068.86" cy="919.12" r="5.1" fill="#f23645"/>
<g fill="#111">
<path d="M24 1484.2H48V1513.6H36.1V1495.9H24Z"/>
<circle cx="57.9" cy="1489.7" r="5.9"/>
<path d="M69.7 1484.2H83.7L71.9 1513.6H58.2Z"/>
</g>
<g transform="translate(95,1476) scale(0.056325)" fill="#111">
<path d="M55 145H440V245H300V672H195V245H55Z"/>
<rect x="445" y="285" width="103" height="387"/>
<path d="M448 507A222 222 0 0 1 670 285V385A122 122 0 0 0 548 507Z"/>
<clipPath id="ca"><rect x="600" y="200" width="480" height="600"/></clipPath><clipPath id="cd"><rect x="1100" y="200" width="445" height="600"/></clipPath><clipPath id="cg"><rect x="0" y="200" width="478" height="600"/></clipPath>
<circle cx="892" cy="481" r="157.5" fill="none" stroke="#111" stroke-width="101" clip-path="url(#ca)"/>
<rect x="980" y="285" width="100" height="387"/>
<circle cx="1349" cy="481" r="157.5" fill="none" stroke="#111" stroke-width="101" clip-path="url(#cd)"/>
<rect x="1440" y="145" width="105" height="527"/>
<rect x="1615" y="285" width="105" height="387"/><circle cx="1668" cy="185" r="68"/>
<rect x="1795" y="285" width="103" height="387"/>
<path d="M1795 446.5A176.5 176.5 0 0 1 2148 446.5V672H2045V446.5A73.5 73.5 0 0 0 1898 446.5Z"/>
</g>
<g transform="translate(215,1476) scale(0.056325)" fill="#111">
<circle cx="284" cy="481" r="157.5" fill="none" stroke="#111" stroke-width="101" clip-path="url(#cg)"/>
<rect x="375" y="285" width="103" height="360"/>
<path d="M478 640A210 210 0 0 1 96 760L178 703A110 110 0 0 0 378 640Z"/>
<path d="M465 145H580L738 515L885 145H1005L795 672H690Z"/>
<rect x="1047" y="285" width="105" height="387"/><circle cx="1100" cy="185" r="68"/>
<path fill-rule="evenodd" d="M1583.4 600.3A208 208 0 1 1 1618.7 512L1310.6 512A107 107 0 0 0 1500.6 542.4ZM1316.4 435A107 107 0 0 1 1509.6 435Z"/>
<path d="M1620 285H1730L1800 545L1875 285H1965L2040 545L2110 285H2220L2095 672H1995L1920 420L1845 672H1745Z"/>
</g>
</svg>
</body></html>
